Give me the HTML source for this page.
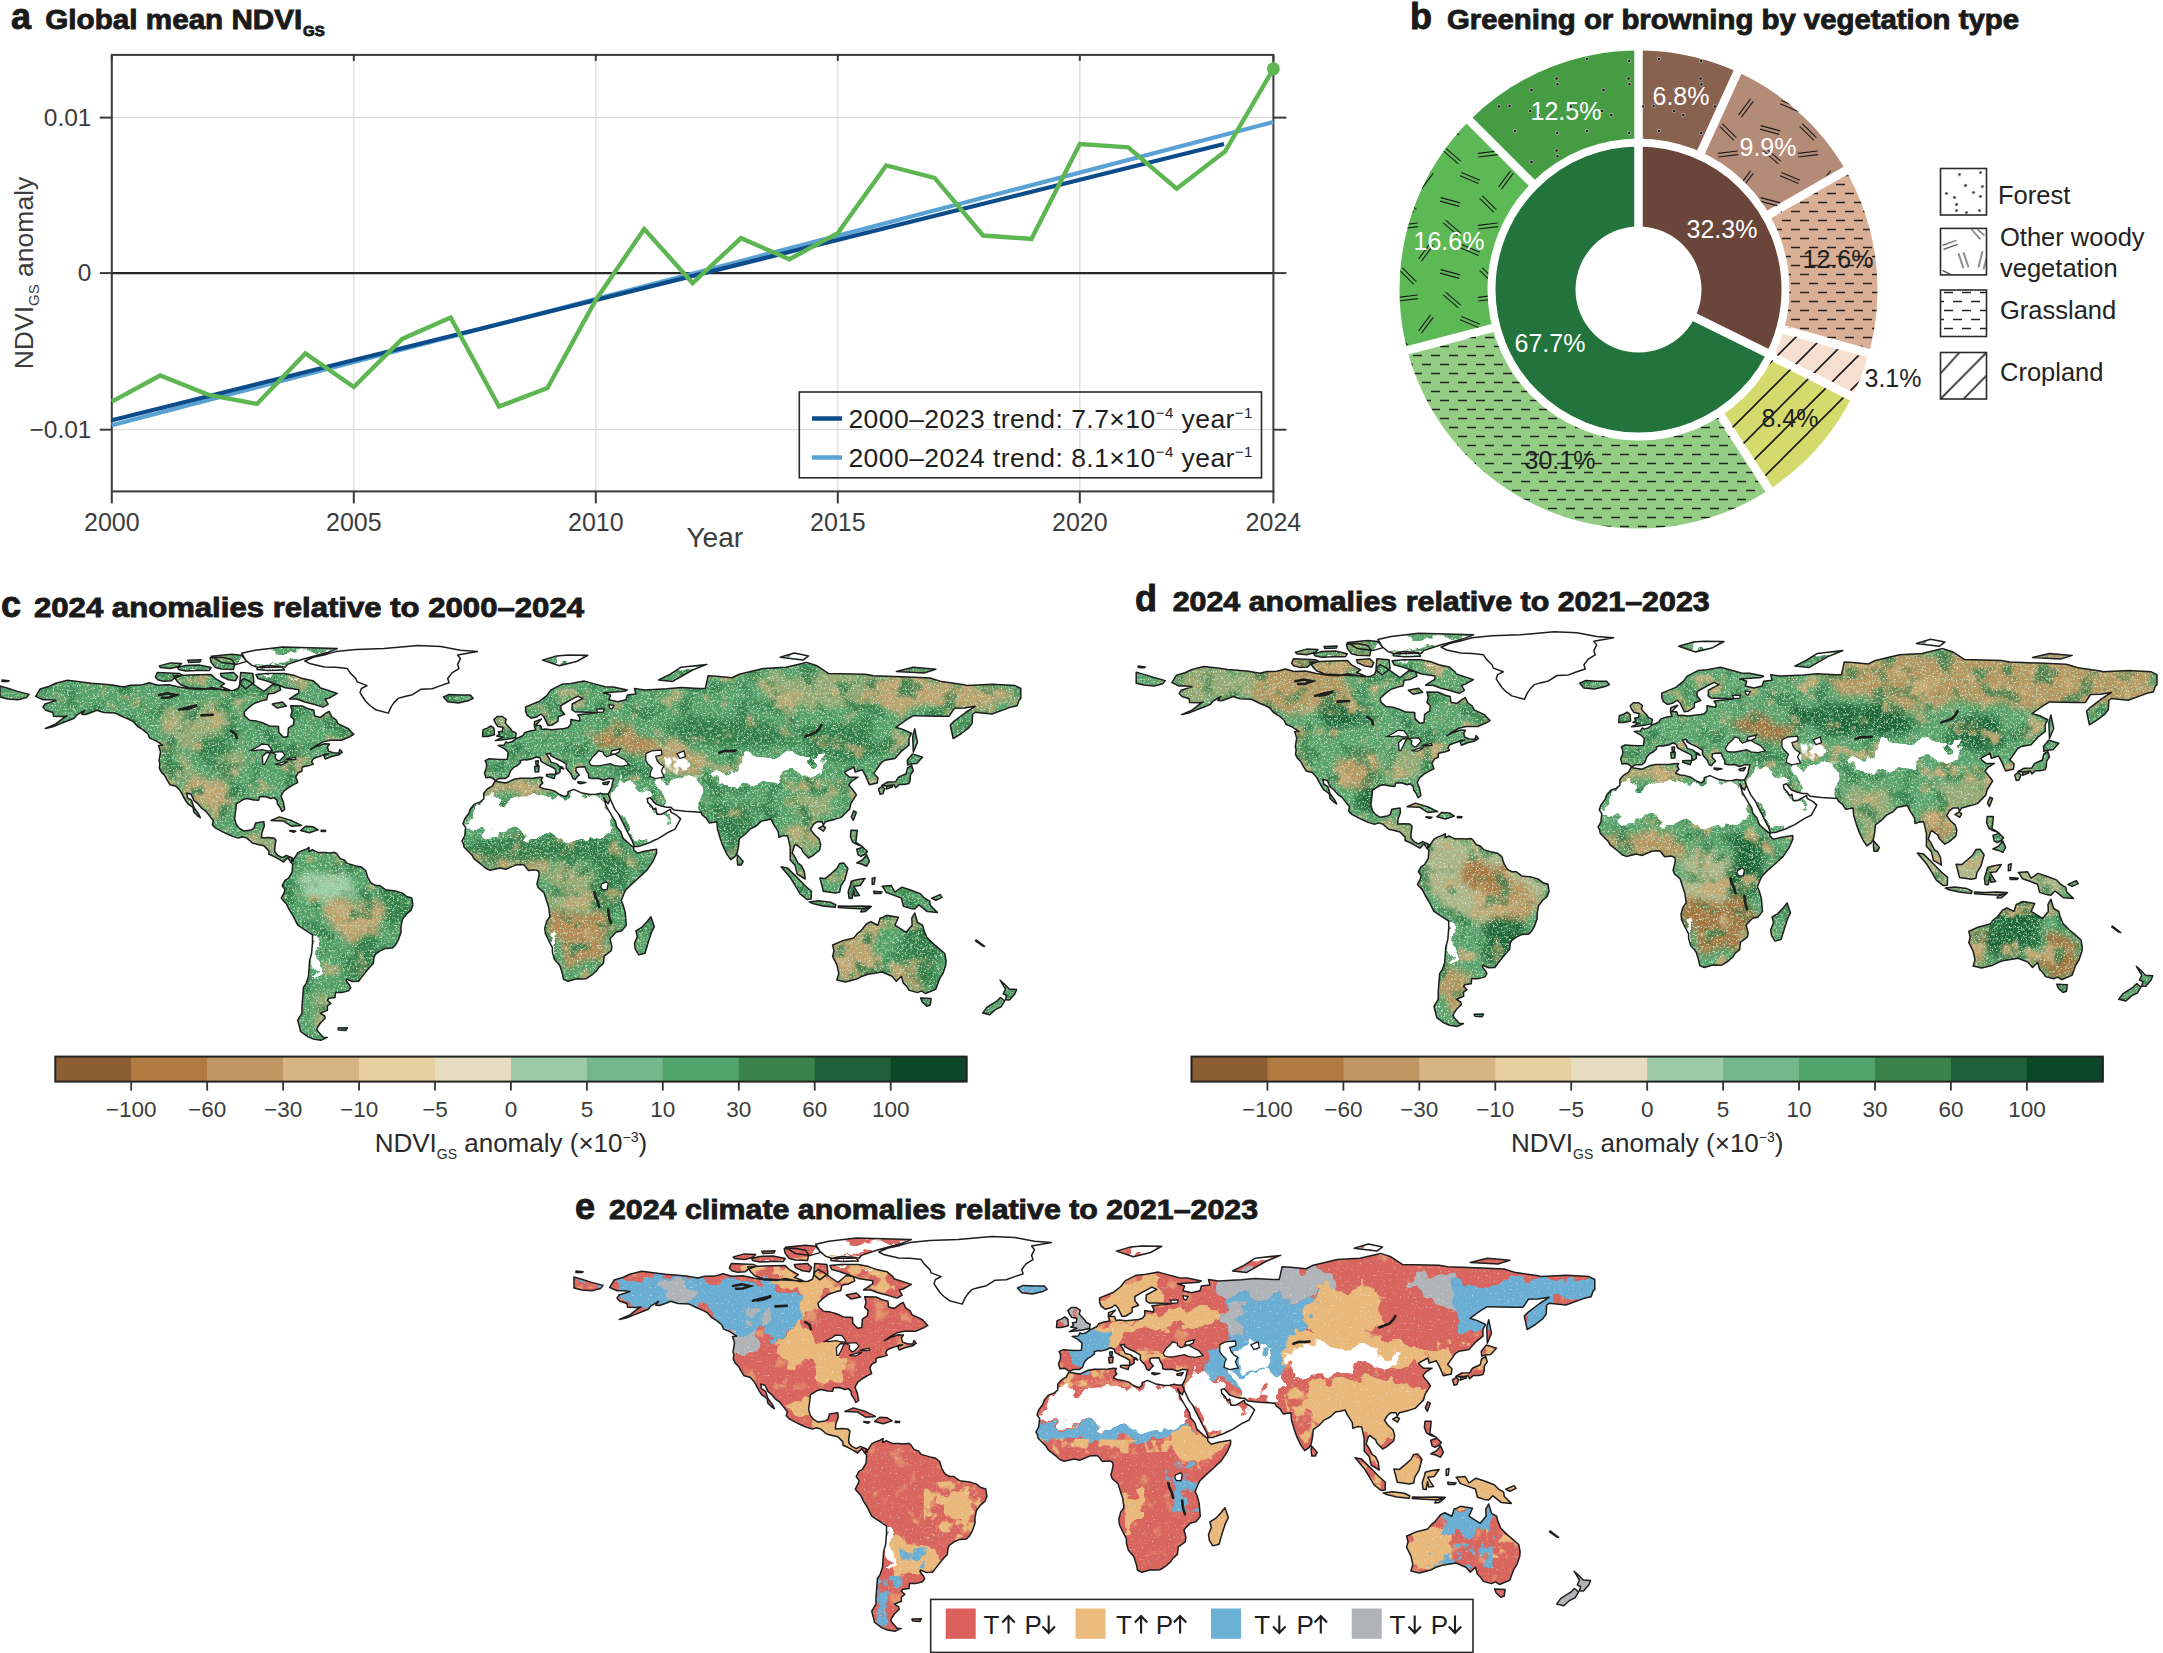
<!DOCTYPE html>
<html><head><meta charset="utf-8"><style>
html,body{margin:0;padding:0;background:#fff;width:2163px;height:1653px;overflow:hidden}
svg{display:block;font-family:"Liberation Sans", sans-serif}
</style></head><body>
<svg width="2163" height="1653" viewBox="0 0 2163 1653">
<defs>
<path id="land" d="M35.7,696.4L40.2,689.0L48.7,686.5L55.8,683.3L67.7,680.2L81.2,681.9L91.4,683.3L103.9,684.2L112.4,685.1L123.7,687.0L130.8,685.3L140.7,685.1L149.2,682.8L157.7,685.3L169.0,684.8L180.3,687.3L191.6,689.0L202.9,689.6L211.4,687.6L225.6,690.4L234.1,690.2L238.3,688.2L241.1,680.8L244.0,678.5L249.6,681.4L256.7,686.5L263.8,691.3L269.4,687.0L272.3,684.5L279.3,685.6L280.8,689.9L273.7,693.3L268.0,694.1L266.6,699.8L262.4,700.6L254.7,703.2L249.6,706.9L244.0,712.0L244.8,716.0L249.6,720.2L256.7,721.1L262.4,722.8L269.4,725.9L278.5,726.4L278.8,732.4L283.6,737.2L287.8,736.4L288.4,728.1L293.5,724.7L294.1,719.6L290.7,716.2L292.1,711.1L290.7,705.7L302.0,706.0L309.1,709.1L313.9,710.3L314.7,716.0L320.4,717.4L326.0,713.1L329.1,711.4L331.7,716.8L335.9,719.6L338.2,723.9L344.4,726.7L348.7,729.0L353.8,734.4L350.1,736.6L341.6,740.3L330.3,740.3L323.2,741.8L316.1,745.7L310.5,749.7L316.1,746.6L324.6,743.7L329.4,744.0L327.4,747.1L328.6,751.1L333.1,752.8L338.8,753.1L339.9,749.4L342.2,752.2L338.8,754.8L331.4,756.5L325.2,759.0L323.8,755.6L328.6,753.7L324.6,754.2L321.8,755.6L316.7,757.3L313.3,758.8L311.6,761.9L313.3,764.1L309.1,765.6L303.4,766.7L302.0,767.8L302.0,771.0L298.3,772.7L295.8,776.9L296.9,780.0L297.7,782.6L293.5,784.6L287.8,788.0L283.6,791.4L281.0,796.2L283.3,802.1L284.7,809.5L281.9,811.5L279.9,807.2L277.4,803.8L277.1,800.4L274.2,797.6L270.9,798.5L265.2,796.5L259.5,796.7L258.7,800.2L253.9,799.9L246.8,798.5L243.1,799.6L236.3,803.8L235.8,809.5L234.6,818.6L236.3,824.5L239.2,828.2L244.0,831.1L251.0,829.9L253.9,828.5L255.6,823.1L263.8,821.7L264.3,826.0L261.8,833.0L261.5,837.9L268.0,837.6L273.7,837.9L275.9,840.1L274.8,847.8L274.8,851.7L277.9,855.4L282.2,857.7L286.4,855.4L292.4,858.0L293.5,860.5L290.7,862.2L287.8,857.7L283.6,862.0L279.3,859.4L273.7,856.3L268.9,854.3L268.9,850.9L263.8,845.8L258.1,844.4L252.5,843.0L246.8,838.1L242.6,836.7L238.3,838.1L232.6,836.4L228.4,834.5L222.7,831.9L215.7,828.2L212.3,824.8L213.4,820.8L210.3,816.9L205.8,811.2L201.5,808.1L197.6,803.6L193.9,800.4L191.0,794.2L186.8,793.1L187.4,797.6L191.6,800.4L193.9,807.5L198.7,814.0L200.4,817.7L197.8,816.0L193.9,812.3L193.0,807.5L187.9,803.8L185.4,800.4L183.1,796.2L180.0,790.5L176.0,786.3L170.1,784.8L166.4,778.9L164.7,775.5L161.3,772.1L159.3,768.1L159.9,763.6L159.1,760.7L160.5,751.7L158.5,745.4L162.7,745.2L156.2,740.9L149.7,738.1L147.7,733.8L142.7,729.6L137.8,726.7L133.6,721.9L129.4,719.6L122.3,716.5L115.2,713.1L103.9,712.5L96.8,710.3L91.1,712.5L85.5,714.5L81.8,714.3L84.6,710.3L77.0,714.8L74.2,718.2L68.5,720.5L60.0,723.9L52.9,726.7L45.3,728.4L55.8,723.9L64.3,717.4L67.1,716.0L62.3,716.5L53.5,716.2L52.9,712.5L45.9,710.3L43.0,707.2L45.0,704.0L55.8,700.6L50.1,699.8L43.0,699.8L35.7,696.4ZM388.3,713.1L375.6,709.7L369.9,705.5L365.7,701.2L362.8,697.0L360.0,692.7L361.4,688.5L367.1,685.6L357.2,681.9L355.8,678.5L350.1,672.9L347.3,668.6L335.9,667.2L324.6,666.9L310.5,663.8L304.8,661.0L313.3,657.3L326.0,654.4L335.9,651.6L355.8,649.6L384.1,648.5L418.0,645.6L440.7,646.5L460.5,650.2L477.4,651.6L457.6,655.0L460.5,658.7L457.6,664.4L459.0,668.6L452.0,672.9L447.7,678.5L449.1,682.8L440.7,685.6L432.2,688.7L420.8,689.3L412.4,694.7L403.9,696.7L398.2,698.4L394.0,702.6L391.1,706.9L388.3,713.1ZM443.5,697.0L449.1,694.4L460.5,695.0L470.4,695.0L473.2,698.4L468.9,700.4L458.5,702.9L447.7,701.8L443.5,697.0ZM292.4,858.3L294.1,858.6L297.7,852.9L301.4,850.9L306.2,849.2L309.1,847.5L308.8,851.5L312.7,849.8L318.4,852.6L324.6,852.6L330.3,852.9L334.5,852.3L336.5,853.4L340.2,858.6L344.4,860.0L347.3,863.4L355.8,865.9L361.4,867.1L365.7,870.5L367.6,877.0L369.9,881.2L371.3,883.2L375.6,885.5L379.8,885.5L385.5,889.7L395.4,890.9L402.4,893.1L406.7,896.5L411.8,898.0L412.9,905.3L410.9,910.4L406.7,913.8L402.4,919.5L401.0,926.6L401.0,932.3L398.2,940.2L395.4,945.0L392.5,947.9L385.5,948.4L380.4,950.7L375.6,954.1L374.1,956.9L373.3,963.4L369.9,967.1L365.7,972.0L361.4,977.6L358.6,981.3L352.4,981.6L346.4,979.0L346.1,980.7L349.2,984.7L350.7,987.5L348.7,990.7L341.6,992.6L335.4,992.6L335.1,997.5L328.9,998.3L327.4,1000.3L330.8,1003.4L327.4,1006.0L327.4,1010.2L320.4,1013.1L324.6,1015.9L325.2,1018.2L320.4,1023.0L316.7,1028.9L317.8,1031.2L323.2,1037.2L327.2,1037.4L320.9,1040.3L313.3,1039.1L307.6,1036.6L300.6,1031.5L299.2,1025.8L297.7,1020.1L302.0,1013.1L302.0,1006.0L302.8,996.0L303.4,987.5L306.2,983.3L308.5,976.2L309.1,967.7L309.6,960.6L311.6,953.5L312.5,942.2L312.5,934.8L307.6,931.7L297.7,925.2L293.5,916.7L289.2,909.6L286.4,903.9L281.3,898.2L284.2,892.6L285.0,889.7L282.2,885.5L285.0,880.4L288.4,878.4L292.1,872.2L292.6,864.2L290.9,862.0L292.4,858.3ZM495.0,781.2L505.7,783.1L514.2,779.2L519.9,778.3L534.0,778.0L539.7,777.2L542.5,777.5L541.1,780.0L542.8,782.9L540.3,785.4L539.7,787.1L543.9,788.8L548.8,789.4L554.7,791.1L559.5,794.5L565.2,796.7L568.0,794.2L568.0,791.6L573.7,789.4L579.3,791.9L582.1,793.1L590.6,794.5L596.0,794.2L600.5,793.3L602.8,793.9L608.2,793.9L610.2,799.0L608.2,803.8L606.2,801.9L603.7,797.9L606.2,806.1L611.9,816.0L615.5,821.7L616.7,827.1L620.6,831.6L623.2,838.4L628.8,843.5L633.7,847.5L633.7,849.8L637.3,853.2L644.4,851.2L648.7,850.6L656.6,849.2L656.6,853.2L652.9,861.4L647.2,869.9L639.6,877.0L631.7,884.1L626.0,889.7L623.8,894.0L621.2,900.5L623.2,905.3L625.2,912.4L626.3,925.2L621.8,930.8L616.1,932.3L609.9,938.8L611.9,946.4L611.3,950.7L604.2,956.1L603.4,963.4L599.1,967.1L596.3,971.1L592.1,974.8L586.4,978.5L583.8,979.0L576.5,978.8L568.0,981.3L563.5,979.3L562.9,976.2L562.3,973.4L560.1,966.3L558.1,963.4L554.4,959.2L552.4,952.1L552.4,947.6L548.8,940.8L545.4,933.7L544.8,928.0L546.8,920.9L549.9,916.7L548.8,907.6L546.2,899.7L543.9,892.6L538.3,887.8L536.9,884.1L538.3,878.4L539.1,874.4L538.6,871.3L535.5,869.9L531.2,870.2L528.4,870.5L524.1,865.1L521.0,864.5L515.6,865.1L510.8,867.1L505.7,869.3L500.1,867.9L490.2,870.2L485.9,868.5L481.7,864.8L477.4,861.4L474.0,858.6L471.8,854.9L468.9,852.0L464.1,847.2L463.3,843.5L461.9,841.0L464.7,835.9L465.6,827.4L463.0,823.7L464.7,818.9L468.9,813.2L470.4,808.7L474.6,804.1L480.3,801.9L483.7,799.0L483.7,793.3L487.3,789.1L489.9,787.4L492.2,786.3L493.9,782.9L495.0,781.2ZM650.9,916.7L654.3,926.6L651.5,932.3L648.7,940.8L645.0,953.2L638.8,954.9L635.4,949.3L634.5,943.6L637.3,936.5L635.9,930.8L641.6,927.4L647.0,921.8L650.9,916.7ZM495.6,780.6L498.9,778.6L505.2,778.6L508.6,776.1L510.6,770.7L513.9,767.3L517.6,765.3L520.5,762.7L520.2,760.7L524.1,759.6L526.7,759.9L532.1,758.8L536.6,756.8L540.3,758.2L541.1,761.3L546.2,764.4L551.9,767.0L555.5,769.2L555.8,774.4L558.1,773.5L560.1,772.1L560.1,767.8L563.8,769.0L562.3,767.3L559.2,766.1L556.7,763.9L551.0,762.2L549.6,759.0L546.2,753.9L550.5,753.4L550.7,755.6L555.3,758.2L560.9,760.7L566.3,764.1L566.3,768.4L568.6,771.2L571.1,774.1L572.8,778.3L575.1,779.5L577.1,776.9L579.3,774.9L575.9,771.0L576.2,767.5L579.3,767.0L585.0,766.7L585.5,768.1L586.4,770.7L588.4,773.8L588.7,777.8L592.1,778.6L598.3,778.3L603.4,780.3L609.0,778.3L613.8,778.9L612.7,782.0L611.9,786.5L610.2,790.5L608.2,793.9L610.2,799.0L614.7,808.9L618.9,814.6L622.3,821.7L626.0,828.8L628.8,834.5L632.5,841.5L634.2,846.6L638.8,846.4L648.7,843.0L658.6,838.4L668.5,832.2L675.0,829.1L680.6,818.9L677.2,815.7L671.0,812.1L670.4,809.2L667.1,811.2L661.4,814.3L657.1,814.3L656.3,811.2L655.7,808.1L653.5,809.5L651.5,806.1L647.8,802.4L647.2,798.7L650.1,797.6L655.4,803.8L661.4,806.1L666.5,807.2L671.0,807.2L673.8,810.1L685.4,811.2L701.0,812.3L702.4,815.2L706.1,818.0L709.5,823.1L716.9,821.7L717.4,828.8L720.3,838.7L723.1,846.4L727.0,854.3L730.7,859.7L735.0,856.6L737.2,852.9L738.6,845.8L739.2,838.7L744.9,834.5L750.5,828.8L756.2,826.0L761.3,821.1L766.1,820.3L771.2,819.1L773.2,823.7L778.3,831.6L778.8,837.3L783.6,835.6L787.6,835.9L790.2,847.2L790.2,860.0L795.2,865.6L797.2,874.1L805.2,879.0L804.3,871.3L801.5,865.6L798.1,863.4L795.0,857.1L792.1,852.9L794.4,845.8L795.8,844.4L798.6,846.6L801.5,848.6L802.9,852.0L808.6,858.0L812.8,855.7L819.6,850.0L820.7,844.4L819.0,838.7L814.2,834.5L810.5,829.4L813.4,824.5L817.0,821.7L822.1,821.7L823.3,825.1L825.5,821.7L834.6,819.4L841.1,817.4L845.3,813.2L849.6,808.9L851.0,803.3L856.4,794.8L853.3,790.5L848.7,784.8L852.4,780.6L858.1,777.2L849.6,777.2L845.3,773.5L844.5,772.1L853.8,767.0L855.2,772.1L862.3,769.8L865.1,774.9L869.4,784.8L877.3,782.9L877.9,777.8L873.6,773.5L878.7,766.4L881.3,762.7L885.0,760.2L894.9,758.5L901.9,750.8L909.0,745.2L909.0,738.1L911.6,733.5L903.4,729.6L896.0,727.3L905.9,720.1L913.3,715.7L939.3,716.2L949.2,716.2L954.3,708.3L964.2,708.0L975.2,706.3L965.6,712.5L954.3,721.1L950.3,725.0L953.2,738.6L961.4,733.5L968.7,727.9L972.1,723.3L972.7,714.0L975.2,712.3L991.9,714.0L1011.5,706.9L1017.1,705.7L1019.1,700.1L1020.8,698.4L1020.8,688.5L1015.1,685.6L992.5,684.2L967.0,685.6L964.2,684.8L941.6,681.6L930.2,678.0L907.6,677.1L873.6,675.7L865.1,674.3L828.4,673.4L817.0,665.8L806.6,662.4L785.9,667.2L763.3,668.6L739.2,674.3L732.1,677.7L716.6,676.3L708.1,675.7L705.3,688.5L699.6,688.5L681.2,687.6L667.1,688.7L644.4,689.9L634.5,688.5L635.9,694.1L627.4,695.0L626.0,699.8L617.5,701.8L609.0,699.8L610.5,695.0L603.4,692.7L624.6,691.3L627.4,689.9L613.3,687.0L605.1,686.8L593.5,683.6L584.4,681.1L570.8,683.6L562.3,684.2L551.0,689.9L546.8,695.5L539.7,701.2L525.6,706.9L525.6,711.4L527.2,715.4L531.2,718.2L536.9,716.8L541.1,714.0L543.9,716.8L546.8,722.8L548.2,725.6L551.9,725.0L558.1,721.1L558.1,716.8L564.6,714.3L560.9,709.7L560.9,705.5L570.8,699.8L577.9,696.1L582.7,698.4L572.2,704.0L572.0,709.7L575.1,712.0L582.1,712.0L596.9,712.8L585.0,714.0L577.9,714.8L579.9,718.2L579.6,721.1L570.8,719.6L570.8,724.5L568.0,727.6L564.6,728.4L551.9,729.8L545.4,729.0L542.0,729.6L540.5,725.6L535.7,725.3L541.4,719.1L534.6,721.6L534.3,725.3L535.7,730.1L529.8,731.0L524.7,732.7L522.7,735.8L518.5,737.8L516.5,738.3L512.0,741.8L508.0,742.9L506.0,741.8L504.3,744.9L498.1,745.4L504.3,748.6L508.0,752.0L507.7,756.5L507.2,759.3L500.1,759.6L488.8,758.8L485.1,760.7L486.5,763.6L486.5,767.8L484.5,772.7L485.9,777.8L490.5,777.2L493.6,779.2L495.6,780.6ZM495.3,740.6L501.5,740.0L508.6,738.9L515.4,737.5L516.2,733.2L512.2,731.3L510.8,729.0L507.2,725.3L505.2,723.0L506.3,719.4L502.3,716.5L497.2,716.5L493.9,719.6L495.6,723.3L497.8,726.4L502.9,727.3L502.3,731.3L498.4,731.8L499.5,734.4L496.7,736.1L502.9,737.2L495.3,740.6ZM494.4,734.7L493.9,728.1L490.7,725.9L487.3,728.1L483.1,729.6L482.5,736.4L487.3,736.4L494.4,734.7ZM881.8,785.4L887.8,782.0L895.7,781.7L898.5,777.2L906.2,773.8L907.6,767.8L911.6,765.3L913.3,770.7L910.4,774.9L910.1,780.6L909.0,783.4L904.2,784.6L899.1,784.6L895.7,787.7L894.0,784.8L887.8,785.7L881.8,785.4ZM878.5,788.8L880.1,794.2L883.0,793.6L884.7,788.5L881.8,786.5L878.5,788.8ZM886.4,789.1L892.6,786.8L892.0,785.4L886.7,786.3L886.4,789.1ZM907.6,765.0L907.3,760.2L912.4,753.9L922.6,757.1L916.7,763.6L910.4,764.1L907.6,765.0ZM913.3,752.2L917.5,742.3L914.7,728.7L912.7,736.6L913.3,752.2ZM853.8,810.9L856.4,812.3L853.3,820.3L851.3,816.9L853.8,810.9ZM818.7,828.2L822.7,826.0L825.5,827.4L823.5,831.1L818.7,828.2ZM737.5,854.9L743.2,861.4L741.2,865.1L737.8,865.1L737.2,860.0L737.5,854.9ZM781.1,866.8L787.3,867.9L795.2,875.6L804.9,885.5L811.4,891.2L811.1,899.1L807.1,899.4L800.1,894.0L795.2,885.5L790.4,877.8L781.1,866.8ZM809.1,901.9L818.5,900.8L830.3,902.2L835.7,904.8L835.2,907.3L822.7,905.9L812.8,903.6L809.1,901.9ZM838.3,905.9L848.2,906.2L860.9,905.9L870.8,906.2L865.1,909.0L849.6,908.2L838.3,907.6L838.3,905.9ZM819.9,878.1L821.9,885.5L823.3,891.2L835.4,893.1L839.7,892.0L840.8,886.1L844.8,879.8L847.9,868.5L843.9,863.1L839.7,863.4L836.9,868.5L831.2,873.6L825.5,878.4L819.9,878.1ZM849.0,898.2L852.1,898.5L853.5,890.6L854.7,896.0L859.5,895.4L856.7,891.2L853.8,886.3L860.1,885.5L865.1,878.4L856.7,879.8L851.3,881.2L850.2,885.5L848.2,891.7L849.0,898.2ZM882.1,886.3L891.2,885.5L894.9,892.0L901.9,887.2L910.4,890.0L920.3,893.7L924.6,898.2L929.7,901.1L930.2,905.3L937.3,912.4L927.4,911.6L918.9,904.8L914.7,909.0L910.4,908.4L903.4,906.2L901.4,898.0L893.5,895.1L886.4,892.6L883.5,887.8L882.1,886.3ZM851.0,830.2L857.2,830.2L856.7,835.9L855.8,842.4L862.3,846.4L856.7,844.4L852.7,842.1L850.4,836.4L851.0,830.2ZM856.7,862.8L862.3,860.0L866.6,854.9L869.4,861.4L866.6,866.2L862.3,864.2L856.7,862.8ZM856.7,849.2L862.9,847.2L867.4,851.5L865.1,854.3L860.9,856.3L858.1,854.9L856.7,849.2ZM832.6,945.0L834.0,944.5L841.7,941.1L853.8,937.9L857.2,933.7L860.9,930.8L866.6,923.8L870.8,921.8L877.9,925.2L880.1,918.1L881.6,917.8L886.4,915.3L898.5,917.2L894.9,925.2L906.2,932.3L912.1,925.2L911.8,918.1L914.7,913.0L917.5,922.3L922.6,925.2L924.0,930.6L926.8,937.4L933.1,943.6L938.2,947.9L944.7,953.5L946.1,960.6L945.8,964.9L943.0,973.4L939.6,978.8L935.9,989.0L935.6,989.2L925.4,993.5L921.5,990.9L917.5,992.6L909.3,990.4L906.5,986.1L903.4,983.3L901.4,976.2L896.3,981.3L892.0,976.2L882.1,972.0L868.0,974.2L862.3,976.2L856.7,979.0L845.3,981.9L836.9,979.9L838.8,973.4L836.9,964.9L832.6,956.4L834.0,950.7L832.6,945.0ZM920.6,998.0L931.1,998.6L930.2,1005.1L926.8,1006.3L922.3,1002.3L920.6,998.0ZM1000.1,980.2L1005.2,984.7L1009.2,989.0L1016.6,989.5L1014.9,993.8L1009.5,1000.0L1005.5,999.7L1006.6,995.5L1003.3,993.8L1005.5,989.0L1000.1,980.2ZM1000.4,997.5L1004.7,1000.9L1001.0,1006.8L995.3,1009.7L989.7,1014.8L982.6,1013.1L986.8,1007.4L996.7,1001.2L1000.4,997.5ZM270.9,820.6L279.3,816.9L292.1,820.8L301.4,825.4L291.5,826.2L283.6,821.1L270.9,820.6ZM300.6,830.5L305.7,826.2L313.3,826.8L318.1,829.9L309.3,832.8L300.6,830.5ZM542.5,660.1L556.7,655.9L568.0,655.0L587.8,655.3L576.5,661.5L559.5,665.8L542.5,660.1ZM658.6,679.9L669.9,674.3L681.2,667.2L706.7,664.4L692.5,670.0L672.7,681.4L658.6,679.9ZM780.2,657.3L794.4,653.0L808.6,655.9L802.9,660.1L780.2,657.3ZM896.3,671.4L913.3,667.2L935.9,669.2L924.6,672.9L896.3,671.4ZM157.3,672.5L179.7,673.6L182.7,675.1L173.6,678.6L171.5,680.7L163.4,681.2L157.8,679.7L155.3,677.1ZM173.6,676.1L188.8,675.1L211.2,674.4L215.3,678.6L224.4,683.7L220.3,686.3L229.5,690.0L205.1,688.8L188.8,687.8L180.7,684.8L176.6,680.7ZM159.3,665.9L170.5,662.9L181.7,663.4L178.6,666.4L170.5,668.5L160.3,667.5ZM177.6,667.5L185.8,665.4L199.0,664.9L211.2,667.5L209.2,670.5L197.0,670.5L185.8,671.0L178.6,669.5ZM210.2,657.8L221.4,657.3L231.5,659.3L234.6,663.4L233.6,669.5L221.4,669.0L215.3,667.5L211.2,662.4ZM187.8,660.3L201.0,659.8L200.0,661.9L188.8,662.4ZM257.0,667.5L267.1,665.4L282.4,666.4L284.4,670.0L268.2,670.5L257.0,669.5ZM220.3,673.6L233.6,672.5L237.6,676.6L235.6,680.7L228.5,679.7L221.4,676.6ZM240.7,672.5L252.9,673.6L253.9,682.7L245.8,688.8L239.7,683.7ZM255.9,674.6L267.1,673.6L284.4,673.6L294.6,675.6L302.7,678.6L312.9,680.7L319.0,685.8L320.0,687.8L337.3,693.4L329.2,698.0L325.1,699.0L328.2,704.1L323.1,707.1L312.9,704.1L304.8,702.0L296.6,699.0L289.5,699.0L298.7,692.9L298.7,689.8L292.6,688.8L285.4,687.8L277.3,684.8L266.1,680.7L258.0,678.6ZM241.7,653.2L254.9,650.2L282.4,647.1L337.3,648.6L328.2,652.2L302.7,659.3L287.5,664.4L285.4,667.0L258.0,667.5L251.9,665.4L245.8,660.3ZM211.2,656.3L231.5,654.2L241.7,655.3L246.8,661.4L236.6,664.4L221.4,662.4ZM272.2,704.1L282.4,702.0L286.5,706.1L277.3,708.1ZM-0.0,686.0L7.8,688.2L16.8,691.1L29.1,694.4L26.5,697.6L18.1,699.8L7.8,698.9L-0.0,697.0ZM2.0,679.9L9.1,680.8L7.7,681.6L2.0,681.4ZM534.6,766.4L539.1,766.1L538.6,771.8L535.2,772.1L534.6,766.4ZM535.7,761.0L538.3,760.7L538.0,765.3L536.0,764.7L535.7,761.0ZM546.5,774.6L555.5,774.1L554.1,778.6L546.5,776.1L546.5,774.6ZM577.9,781.7L585.8,782.6L580.7,783.7L577.9,782.9L577.9,781.7ZM602.8,783.1L609.3,781.4L607.3,784.6L603.4,784.3L602.8,783.1ZM289.8,830.5L295.8,831.1L294.1,832.2L289.8,831.1ZM321.2,830.2L325.8,830.5L325.2,831.6L321.2,831.6ZM931.7,898.2L940.1,894.6L942.1,897.4L935.9,900.2L931.7,898.2ZM872.2,878.4L875.1,877.5L874.2,884.1L872.2,884.6ZM873.6,891.2L882.1,892.0L880.7,893.4L874.2,893.4ZM862.3,908.7L871.4,906.5L865.1,911.6L860.9,911.9ZM337.9,1028.1L347.3,1027.8L345.8,1030.6L338.8,1030.1ZM976.1,939.9L984.6,946.4L982.6,945.9L975.5,940.8Z"/>
<path id="water" d="M589.2,762.2L592.3,757.3L595.5,754.5L598.6,750.8L603.4,752.2L603.4,753.9L606.5,756.8L611.9,754.8L614.7,754.2L618.9,756.8L624.6,759.6L629.1,764.7L621.8,766.4L614.7,765.6L610.5,763.6L599.1,765.8L593.5,765.8L590.6,765.0L589.2,762.2ZM610.5,753.7L611.9,750.8L620.4,748.8L618.9,752.2L614.7,754.2L610.5,753.7ZM645.8,753.7L651.5,750.8L661.4,750.0L662.0,754.5L655.7,756.5L657.1,760.7L660.0,764.1L663.7,766.4L661.4,770.7L664.2,776.9L655.7,778.6L650.1,776.3L650.6,772.1L652.3,768.1L647.8,763.6L645.8,760.7L645.8,753.7ZM250.8,750.3L258.1,746.6L261.8,744.0L268.0,744.6L271.4,749.4L272.0,750.8L266.6,750.8L262.4,749.7L255.3,750.5L250.8,750.3ZM262.9,764.4L264.6,764.4L267.2,759.3L269.4,754.5L270.9,752.8L266.6,752.5L262.4,756.5L262.9,764.4ZM272.0,752.5L275.1,752.2L282.2,751.7L285.0,755.1L280.2,760.2L277.9,760.7L275.1,757.9L275.7,754.5L272.0,752.5ZM275.1,764.4L281.6,765.0L287.8,761.6L283.6,761.9L277.9,763.6L275.1,764.4ZM285.6,759.9L295.8,759.3L294.9,757.3L287.0,758.8L285.6,759.9ZM677.0,753.7L684.0,750.8L685.4,756.5L679.8,758.5L677.0,753.7ZM601.4,884.1L606.2,881.8L608.2,883.5L607.1,889.7L602.5,889.7L600.8,886.9L601.4,884.1ZM596.3,709.1L604.2,708.9L603.4,712.0L597.7,712.5L596.3,709.1ZM609.0,704.6L614.1,705.5L611.9,709.1L609.9,708.3L609.0,704.6Z"/>
<path id="lakes" d="M805.2,736.4L810.0,734.7L815.6,732.4L819.3,728.7L821.3,725.0M719.4,752.8L725.1,750.8L730.7,751.1L735.5,750.5M594.3,892.0L595.5,896.8L597.7,901.1L599.1,907.0M608.2,909.6L608.8,915.3L609.3,918.1L611.0,923.2M159.1,695.0L167.6,693.3L176.0,695.0L169.0,697.5L161.9,697.8M178.9,709.7L187.4,707.4L197.3,705.2L190.2,708.3L183.1,709.4M231.2,731.0L235.5,733.8L236.9,738.1M212.8,714.8L201.5,715.4"/>
<path id="grl" d="M388.3,713.1L375.6,709.7L369.9,705.5L365.7,701.2L362.8,697.0L360.0,692.7L361.4,688.5L367.1,685.6L357.2,681.9L355.8,678.5L350.1,672.9L347.3,668.6L335.9,667.2L324.6,666.9L310.5,663.8L304.8,661.0L313.3,657.3L326.0,654.4L335.9,651.6L355.8,649.6L384.1,648.5L418.0,645.6L440.7,646.5L460.5,650.2L477.4,651.6L457.6,655.0L460.5,658.7L457.6,664.4L459.0,668.6L452.0,672.9L447.7,678.5L449.1,682.8L440.7,685.6L432.2,688.7L420.8,689.3L412.4,694.7L403.9,696.7L398.2,698.4L394.0,702.6L391.1,706.9L388.3,713.1Z"/>
<clipPath id="clipLand"><use href="#land"/></clipPath>
<filter id="blur5" x="-10" y="615" width="1045" height="445" filterUnits="userSpaceOnUse" color-interpolation-filters="sRGB"><feGaussianBlur stdDeviation="5"/></filter>
<filter id="blur2" x="-10" y="615" width="1045" height="445" filterUnits="userSpaceOnUse" color-interpolation-filters="sRGB"><feGaussianBlur stdDeviation="1.6"/></filter>
<filter id="dispC" x="-10" y="615" width="1045" height="445" filterUnits="userSpaceOnUse" color-interpolation-filters="sRGB"><feTurbulence type="fractalNoise" baseFrequency="0.035" numOctaves="3" seed="4" result="t"/><feDisplacementMap in="SourceGraphic" in2="t" scale="28" xChannelSelector="R" yChannelSelector="G"/><feGaussianBlur stdDeviation="3"/></filter>
<filter id="dispE" x="-10" y="615" width="1045" height="445" filterUnits="userSpaceOnUse" color-interpolation-filters="sRGB"><feTurbulence type="fractalNoise" baseFrequency="0.05" numOctaves="3" seed="9" result="t"/><feDisplacementMap in="SourceGraphic" in2="t" scale="30" xChannelSelector="R" yChannelSelector="G"/><feGaussianBlur stdDeviation="0.6"/></filter>
<filter id="nTan" x="-10" y="615" width="1045" height="445" filterUnits="userSpaceOnUse" color-interpolation-filters="sRGB"><feTurbulence type="fractalNoise" baseFrequency="0.045" numOctaves="3" seed="11"/><feColorMatrix type="matrix" values="0 0 0 0 0.788 0 0 0 0 0.655 0 0 0 0 0.447 6.0 0 0 0 -3.4"/></filter>
<filter id="nDark" x="-10" y="615" width="1045" height="445" filterUnits="userSpaceOnUse" color-interpolation-filters="sRGB"><feTurbulence type="fractalNoise" baseFrequency="0.05" numOctaves="3" seed="23"/><feColorMatrix type="matrix" values="0 0 0 0 0.176 0 0 0 0 0.478 0 0 0 0 0.275 5.0 0 0 0 -2.7"/></filter>
<filter id="nLight" x="-10" y="615" width="1045" height="445" filterUnits="userSpaceOnUse" color-interpolation-filters="sRGB"><feTurbulence type="fractalNoise" baseFrequency="0.75" numOctaves="2" seed="5"/><feColorMatrix type="matrix" values="0 0 0 0 0.910 0 0 0 0 0.937 0 0 0 0 0.863 7.0 0 0 0 -4.35"/></filter>
<filter id="nLight2" x="-10" y="615" width="1045" height="445" filterUnits="userSpaceOnUse" color-interpolation-filters="sRGB"><feTurbulence type="fractalNoise" baseFrequency="0.4" numOctaves="2" seed="7"/><feColorMatrix type="matrix" values="0 0 0 0 0.659 0 0 0 0 0.831 0 0 0 0 0.671 5.0 0 0 0 -2.6"/></filter>
<filter id="eOr" x="-10" y="615" width="1045" height="445" filterUnits="userSpaceOnUse" color-interpolation-filters="sRGB"><feTurbulence type="fractalNoise" baseFrequency="0.06" numOctaves="3" seed="31"/><feColorMatrix type="matrix" values="0 0 0 0 0.922 0 0 0 0 0.733 0 0 0 0 0.486 6.0 0 0 0 -3.6"/></filter>
<filter id="eWh" x="-10" y="615" width="1045" height="445" filterUnits="userSpaceOnUse" color-interpolation-filters="sRGB"><feTurbulence type="fractalNoise" baseFrequency="0.5" numOctaves="1" seed="13"/><feColorMatrix type="matrix" values="0 0 0 0 1.000 0 0 0 0 1.000 0 0 0 0 1.000 6.0 0 0 0 -3.9"/></filter>
<filter id="patchy" x="-10" y="615" width="1045" height="445" filterUnits="userSpaceOnUse" color-interpolation-filters="sRGB"><feTurbulence type="fractalNoise" baseFrequency="0.07" numOctaves="3" seed="17" result="n"/><feColorMatrix in="n" type="matrix" values="0 0 0 0 0 0 0 0 0 0 0 0 0 0 0 10 0 0 0 -5.0" result="m"/><feComposite in="SourceGraphic" in2="m" operator="in"/></filter>
<filter id="patchy2" x="-10" y="615" width="1045" height="445" filterUnits="userSpaceOnUse" color-interpolation-filters="sRGB"><feTurbulence type="fractalNoise" baseFrequency="0.09" numOctaves="3" seed="41" result="n"/><feColorMatrix in="n" type="matrix" values="0 0 0 0 0 0 0 0 0 0 0 0 0 0 0 10 0 0 0 -5.3" result="m"/><feComposite in="SourceGraphic" in2="m" operator="in"/></filter>
</defs>
<g transform="translate(0,0)">
<g clip-path="url(#clipLand)">
<rect x="-5" y="620" width="1035" height="435" fill="#529f68"/>
<g filter="url(#dispC)"><path d="M160.5,704.0L200.1,701.2L228.4,712.5L228.4,735.2L200.1,743.7L177.5,740.9L157.7,723.9Z" fill="#9aa872" fill-opacity="0.95"/><path d="M191.6,777.8L219.9,777.8L236.9,797.6L231.2,814.6L211.4,817.4L197.3,803.3L186.0,791.9Z" fill="#c4a06c" fill-opacity="0.95"/><path d="M217.1,746.6L239.7,749.4L242.6,769.2L222.7,774.9Z" fill="#9aa872" fill-opacity="0.95"/><path d="M166.1,755.1L188.8,755.1L194.4,774.9L174.6,780.6Z" fill="#9aa872" fill-opacity="0.95"/><path d="M248.2,831.6L276.5,837.3L279.3,857.1L262.4,848.6L248.2,840.1Z" fill="#9aa872" fill-opacity="0.95"/><path d="M335.9,899.7L369.9,899.7L384.1,911.0L381.2,936.5L355.8,942.2L333.1,928.0L324.6,908.2Z" fill="#c4a06c" fill-opacity="0.95"/><path d="M381.2,891.2L412.4,896.8L406.7,916.7L395.4,930.8L384.1,916.7Z" fill="#2f7c48" fill-opacity="0.95"/><path d="M545.4,871.3L590.6,871.3L596.3,905.3L551.0,911.0Z" fill="#9aa872" fill-opacity="0.95"/><path d="M319.0,990.4L333.1,993.2L324.6,1018.7L313.3,1030.1L307.6,1010.2Z" fill="#9aa872" fill-opacity="0.95"/><path d="M548.2,913.8L599.1,908.2L613.3,928.0L602.0,950.7L587.8,964.9L565.2,967.7L553.9,942.2Z" fill="#b98650" fill-opacity="0.95"/><path d="M466.1,845.8L539.7,848.6L548.2,868.5L511.4,868.5L480.3,865.6Z" fill="#c4a06c" fill-opacity="0.95"/><path d="M480.3,800.4L508.6,783.4L539.7,776.3L542.5,789.1L514.2,794.8L485.9,804.7Z" fill="#c4a06c" fill-opacity="0.95"/><path d="M587.8,732.4L635.9,726.7L658.6,738.1L650.1,755.1L618.9,752.2L596.3,750.8Z" fill="#b98650" fill-opacity="0.95"/><path d="M650.1,743.7L686.9,743.7L706.7,757.9L698.2,774.9L667.1,774.9L655.7,763.6Z" fill="#c4a06c" fill-opacity="0.95"/><path d="M873.6,675.7L978.4,684.2L1020.8,695.5L1020.8,706.9L935.9,706.9L893.5,712.5L856.7,698.4Z" fill="#c4a06c" fill-opacity="0.95"/><path d="M771.8,675.7L865.1,675.7L851.0,704.0L794.4,712.5L760.4,698.4Z" fill="#9aa872" fill-opacity="0.95"/><path d="M785.9,823.1L817.0,823.1L817.0,851.5L794.4,857.1Z" fill="#9aa872" fill-opacity="0.95"/><path d="M794.4,789.1L831.2,789.1L831.2,814.6L800.1,814.6Z" fill="#9aa872" fill-opacity="0.95"/><path d="M831.2,939.4L870.8,925.2L882.1,950.7L876.5,976.2L839.7,981.9L828.4,956.4Z" fill="#c4a06c" fill-opacity="0.95"/><path d="M890.6,967.7L916.1,967.7L924.6,990.4L899.1,987.5Z" fill="#c4a06c" fill-opacity="0.95"/><path d="M667.1,718.2L783.1,718.2L800.1,740.9L754.8,749.4L709.5,743.7L667.1,738.1Z" fill="#2f7c48" fill-opacity="0.95"/><path d="M794.4,721.1L868.0,721.1L885.0,746.6L853.8,760.7L805.7,749.4Z" fill="#2f7c48" fill-opacity="0.95"/><path d="M463.3,837.3L618.9,837.3L618.9,860.0L568.0,862.8L500.1,857.1L463.3,848.6Z" fill="#2f7c48" fill-opacity="0.95"/><path d="M593.5,851.5L630.3,848.6L627.4,888.3L618.9,911.0L593.5,905.3Z" fill="#2f7c48" fill-opacity="0.95"/><path d="M715.2,800.4L754.8,806.1L754.8,823.1L732.1,854.3L718.0,834.5Z" fill="#2f7c48" fill-opacity="0.95"/><path d="M901.9,922.3L924.6,925.2L941.6,953.5L935.9,984.7L910.4,979.0L893.5,945.0Z" fill="#2f7c48" fill-opacity="0.95"/><path d="M352.9,942.2L381.2,942.2L369.9,973.4L347.3,973.4Z" fill="#2f7c48" fill-opacity="0.95"/><path d="M200.1,740.9L228.4,740.9L231.2,757.9L200.1,757.9Z" fill="#2f7c48" fill-opacity="0.95"/><path d="M299.2,877.0L341.6,871.3L355.8,891.2L327.4,905.3L296.3,896.8Z" fill="#9fcfa6" fill-opacity="0.95"/></g>
<rect x="-5" y="620" width="1035" height="435" filter="url(#nTan)" opacity="0.7"/>
<rect x="-5" y="620" width="1035" height="435" filter="url(#nDark)" opacity="0.8"/>
<rect x="-5" y="620" width="1035" height="435" filter="url(#nLight2)" opacity="0.7"/>
<rect x="-5" y="620" width="1035" height="435" filter="url(#nLight)" opacity="0.8"/>
<g filter="url(#dispE)"><path d="M463.3,823.1L468.9,811.8L477.4,804.7L488.8,801.9L505.7,797.6L519.9,794.8L534.0,793.3L539.7,796.2L545.4,794.8L553.9,796.2L565.2,799.0L573.7,794.8L582.1,794.8L593.5,796.2L599.1,796.2L604.8,800.4L607.6,806.1L611.9,816.0L616.1,826.0L618.9,831.6L613.3,837.3L596.3,838.7L568.0,839.6L539.7,835.9L511.4,834.5L483.1,833.0L465.3,832.5Z" fill="#ffffff"/><path d="M603.4,794.8L609.0,793.9L610.5,800.4L607.6,803.8L603.7,799.0Z" fill="#ffffff"/><path d="M611.9,791.9L618.9,780.6L633.1,779.2L641.6,787.7L648.7,797.6L651.5,806.1L655.7,810.4L661.4,814.6L669.9,813.2L675.5,811.8L686.9,817.4L678.4,834.5L658.6,838.7L647.2,843.0L638.8,838.7L635.9,833.0L631.7,828.8L626.0,821.7L620.4,813.2L614.7,804.7L610.5,797.6Z" fill="#ffffff"/><path d="M652.9,779.2L669.9,776.3L686.9,777.8L699.6,783.4L701.0,814.6L672.7,814.6L669.9,804.7L661.4,797.6L654.3,789.1Z" fill="#ffffff"/><path d="M714.5,771.4L723.6,770.1L736.5,763.7L755.9,755.9L766.3,752.0L788.3,753.3L803.8,755.9L824.5,755.9L814.2,767.5L806.4,774.0L788.3,771.4L785.7,779.2L768.9,781.8L749.4,785.7L736.5,793.4L732.6,787.0L726.1,781.8L715.8,779.2Z" fill="#ffffff"/><path d="M309.1,930.8L316.1,932.3L320.4,945.0L317.5,959.2L314.7,976.2L312.5,981.9L309.9,981.9L311.0,967.7L311.9,950.7L310.5,936.5Z" fill="#ffffff"/><path d="M545.4,930.8L551.0,930.8L555.3,950.7L558.1,964.9L553.9,962.0L549.6,945.0Z" fill="#ffffff"/></g>
<g filter="url(#patchy)"><path d="M664.0,757.2L677.0,755.9L687.3,759.8L692.5,768.8L702.8,775.3L692.5,781.8L682.1,779.2L674.4,772.7L666.6,768.8Z" fill="#ffffff"/></g>
<use href="#grl" fill="#fff"/>
<g filter="url(#dispE)"><path d="M242.6,655.9L256.7,648.8L335.9,647.9L319.0,655.9L299.2,660.1L279.3,664.4L256.7,665.8L239.7,661.5Z" fill="#ffffff"/><path d="M248.2,667.8L279.3,666.6L285.0,670.0L256.7,670.0Z" fill="#ffffff"/><path d="M539.7,660.1L556.7,655.0L590.6,655.0L579.3,661.5L562.3,664.9Z" fill="#ffffff"/><path d="M667.1,672.9L681.2,665.8L709.5,663.8L686.9,671.4Z" fill="#ffffff"/><path d="M774.6,658.1L794.4,652.2L811.4,655.3L800.1,661.5Z" fill="#ffffff"/><path d="M285.0,673.4L307.6,679.9L319.0,684.2L299.2,676.3Z" fill="#ffffff"/><path d="M171.8,670.0L214.2,665.8L217.1,669.2L194.4,671.4Z" fill="#ffffff"/></g>
</g>
<use href="#water" fill="#fff"/>
<use href="#land" fill="none" stroke="#1e1e1e" stroke-width="1.5" stroke-linejoin="round"/>
<use href="#water" fill="none" stroke="#1e1e1e" stroke-width="1.3"/>
<use href="#lakes" fill="none" stroke="#1e1e1e" stroke-width="2.6" stroke-linecap="round"/>
</g>
<g transform="translate(1136.2,-13.8)">
<g clip-path="url(#clipLand)">
<rect x="-5" y="620" width="1035" height="435" fill="#5aa26c"/>
<g filter="url(#dispC)"><path d="M115.2,678.5L211.4,678.5L211.4,718.2L157.7,726.7L115.2,712.5Z" fill="#bb945e" fill-opacity="0.95"/><path d="M157.7,667.2L242.6,667.2L242.6,687.0L157.7,687.0Z" fill="#bb945e" fill-opacity="0.95"/><path d="M44.5,684.2L115.2,684.2L115.2,712.5L44.5,718.2Z" fill="#9aa872" fill-opacity="0.95"/><path d="M188.8,718.2L228.4,718.2L228.4,743.7L188.8,743.7Z" fill="#1b6336" fill-opacity="0.95"/><path d="M200.1,769.2L239.7,769.2L239.7,797.6L217.1,808.9L200.1,797.6Z" fill="#bb945e" fill-opacity="0.95"/><path d="M228.4,797.6L242.6,803.3L236.9,831.6L222.7,820.3Z" fill="#1b6336" fill-opacity="0.95"/><path d="M256.7,755.1L290.7,755.1L285.0,783.4L256.7,789.1Z" fill="#9aa872" fill-opacity="0.95"/><path d="M248.2,831.6L276.5,837.3L279.3,857.1L262.4,848.6L248.2,840.1Z" fill="#9aa872" fill-opacity="0.95"/><path d="M285.0,851.5L341.6,851.5L369.9,868.5L412.4,896.8L403.9,925.2L381.2,939.4L341.6,936.5L313.3,925.2L282.2,896.8Z" fill="#b3b487" fill-opacity="0.95"/><path d="M330.3,871.3L369.9,874.1L375.6,899.7L347.3,905.3L324.6,891.2Z" fill="#a9733f" fill-opacity="0.95"/><path d="M347.3,905.3L389.7,899.7L403.9,919.5L384.1,939.4L355.8,933.7Z" fill="#bb945e" fill-opacity="0.95"/><path d="M344.4,930.8L386.9,936.5L378.4,964.9L350.1,970.5Z" fill="#1b6336" fill-opacity="0.95"/><path d="M310.5,976.2L341.6,987.5L330.3,1010.2L313.3,1030.1L302.0,1010.2Z" fill="#bb945e" fill-opacity="0.95"/><path d="M542.5,911.0L604.8,908.2L618.9,933.7L604.8,959.2L582.1,967.7L559.5,964.9L545.4,933.7Z" fill="#a9733f" fill-opacity="0.95"/><path d="M463.3,843.0L539.7,848.6L548.2,868.5L511.4,868.5L480.3,865.6Z" fill="#bb945e" fill-opacity="0.95"/><path d="M545.4,871.3L596.3,871.3L596.3,905.3L579.3,913.8L545.4,913.8Z" fill="#b3b487" fill-opacity="0.95"/><path d="M480.3,800.4L508.6,783.4L539.7,776.3L542.5,789.1L514.2,794.8L485.9,804.7Z" fill="#c4a06c" fill-opacity="0.95"/><path d="M593.5,851.5L630.3,848.6L627.4,888.3L618.9,911.0L593.5,905.3Z" fill="#1b6336" fill-opacity="0.95"/><path d="M590.6,732.4L638.8,729.6L667.1,743.7L641.6,756.5L613.3,752.2Z" fill="#a9733f" fill-opacity="0.95"/><path d="M652.9,718.2L768.9,718.2L788.7,740.9L752.0,752.2L698.2,746.6L658.6,740.9Z" fill="#1b6336" fill-opacity="0.95"/><path d="M845.3,664.4L1020.8,684.2L1020.8,718.2L935.9,723.9L879.3,726.7L845.3,712.5Z" fill="#bb945e" fill-opacity="0.95"/><path d="M686.9,672.9L845.3,664.4L845.3,712.5L780.2,718.2L723.6,712.5L686.9,695.5Z" fill="#bb945e" fill-opacity="0.95"/><path d="M800.1,791.9L856.7,791.9L851.0,820.3L805.7,823.1Z" fill="#9aa872" fill-opacity="0.95"/><path d="M788.7,823.1L817.0,823.1L817.0,854.3L794.4,860.0Z" fill="#bb945e" fill-opacity="0.95"/><path d="M780.2,865.6L851.0,862.8L935.9,888.3L930.2,911.0L836.9,908.2L794.4,896.8Z" fill="#b3b487" fill-opacity="0.95"/><path d="M811.4,735.2L862.3,729.6L879.3,755.1L845.3,763.6L811.4,755.1Z" fill="#1b6336" fill-opacity="0.95"/><path d="M715.2,797.6L760.4,806.1L754.8,826.0L732.1,857.1L715.2,831.6Z" fill="#9aa872" fill-opacity="0.95"/><path d="M851.0,922.3L899.1,919.5L901.9,962.0L873.6,973.4L851.0,962.0Z" fill="#1b6336" fill-opacity="0.95"/><path d="M910.4,945.0L944.4,953.5L941.6,976.2L924.6,990.4L904.8,984.7Z" fill="#a9733f" fill-opacity="0.95"/><path d="M831.2,942.2L851.0,939.4L851.0,979.0L834.0,979.0Z" fill="#bb945e" fill-opacity="0.95"/></g>
<rect x="-5" y="620" width="1035" height="435" filter="url(#nTan)" opacity="0.9"/>
<rect x="-5" y="620" width="1035" height="435" filter="url(#nDark)" opacity="0.7"/>
<rect x="-5" y="620" width="1035" height="435" filter="url(#nLight2)" opacity="0.7"/>
<rect x="-5" y="620" width="1035" height="435" filter="url(#nLight)" opacity="0.8"/>
<g filter="url(#dispE)"><path d="M463.3,823.1L468.9,811.8L477.4,804.7L488.8,801.9L505.7,797.6L519.9,794.8L534.0,793.3L539.7,796.2L545.4,794.8L553.9,796.2L565.2,799.0L573.7,794.8L582.1,794.8L593.5,796.2L599.1,796.2L604.8,800.4L607.6,806.1L611.9,816.0L616.1,826.0L618.9,831.6L613.3,837.3L596.3,838.7L568.0,839.6L539.7,835.9L511.4,834.5L483.1,833.0L465.3,832.5Z" fill="#ffffff"/><path d="M603.4,794.8L609.0,793.9L610.5,800.4L607.6,803.8L603.7,799.0Z" fill="#ffffff"/><path d="M611.9,791.9L618.9,780.6L633.1,779.2L641.6,787.7L648.7,797.6L651.5,806.1L655.7,810.4L661.4,814.6L669.9,813.2L675.5,811.8L686.9,817.4L678.4,834.5L658.6,838.7L647.2,843.0L638.8,838.7L635.9,833.0L631.7,828.8L626.0,821.7L620.4,813.2L614.7,804.7L610.5,797.6Z" fill="#ffffff"/><path d="M652.9,779.2L669.9,776.3L686.9,777.8L699.6,783.4L701.0,814.6L672.7,814.6L669.9,804.7L661.4,797.6L654.3,789.1Z" fill="#ffffff"/><path d="M714.5,771.4L723.6,770.1L736.5,763.7L755.9,755.9L766.3,752.0L788.3,753.3L803.8,755.9L824.5,755.9L814.2,767.5L806.4,774.0L788.3,771.4L785.7,779.2L768.9,781.8L749.4,785.7L736.5,793.4L732.6,787.0L726.1,781.8L715.8,779.2Z" fill="#ffffff"/><path d="M309.1,930.8L316.1,932.3L320.4,945.0L317.5,959.2L314.7,976.2L312.5,981.9L309.9,981.9L311.0,967.7L311.9,950.7L310.5,936.5Z" fill="#ffffff"/><path d="M545.4,930.8L551.0,930.8L555.3,950.7L558.1,964.9L553.9,962.0L549.6,945.0Z" fill="#ffffff"/></g>
<g filter="url(#patchy)"><path d="M664.0,757.2L677.0,755.9L687.3,759.8L692.5,768.8L702.8,775.3L692.5,781.8L682.1,779.2L674.4,772.7L666.6,768.8Z" fill="#ffffff"/></g>
<use href="#grl" fill="#fff"/>
<g filter="url(#dispE)"><path d="M242.6,655.9L256.7,648.8L335.9,647.9L319.0,655.9L299.2,660.1L279.3,664.4L256.7,665.8L239.7,661.5Z" fill="#ffffff"/><path d="M248.2,667.8L279.3,666.6L285.0,670.0L256.7,670.0Z" fill="#ffffff"/><path d="M539.7,660.1L556.7,655.0L590.6,655.0L579.3,661.5L562.3,664.9Z" fill="#ffffff"/><path d="M667.1,672.9L681.2,665.8L709.5,663.8L686.9,671.4Z" fill="#ffffff"/><path d="M774.6,658.1L794.4,652.2L811.4,655.3L800.1,661.5Z" fill="#ffffff"/><path d="M285.0,673.4L307.6,679.9L319.0,684.2L299.2,676.3Z" fill="#ffffff"/><path d="M171.8,670.0L214.2,665.8L217.1,669.2L194.4,671.4Z" fill="#ffffff"/></g>
</g>
<use href="#water" fill="#fff"/>
<use href="#land" fill="none" stroke="#1e1e1e" stroke-width="1.5" stroke-linejoin="round"/>
<use href="#water" fill="none" stroke="#1e1e1e" stroke-width="1.3"/>
<use href="#lakes" fill="none" stroke="#1e1e1e" stroke-width="2.6" stroke-linecap="round"/>
</g>
<g transform="translate(574,591)">
<g clip-path="url(#clipLand)">
<rect x="-5" y="620" width="1035" height="435" fill="#d9655f"/>
<rect x="-5" y="620" width="1035" height="435" filter="url(#eOr)" opacity="0.55"/>
<g filter="url(#dispE)"><path d="M40.0,688.7L80.4,682.8L135.1,687.5L168.3,689.9L204.0,695.8L227.7,705.4L230.1,726.7L211.1,738.6L204.0,745.8L182.6,741.0L163.6,748.1L149.3,736.2L125.6,717.2L101.8,710.1L73.3,717.2L49.5,712.5L41.2,703.0Z" fill="#6aaed3"/><path d="M80.4,686.3L116.1,688.7L120.8,703.0L92.3,705.4Z" fill="#b0b3b7"/><path d="M156.5,738.6L185.0,741.0L182.6,762.4L166.0,769.5L154.1,760.0Z" fill="#b0b3b7"/><path d="M201.6,681.6L253.9,681.6L265.8,703.0L244.4,707.7L239.6,717.2L225.4,726.7L230.1,738.6L239.6,750.5L225.4,760.0L211.1,750.5L204.0,745.8L215.9,736.2L227.7,722.0L227.7,705.4Z" fill="#e9b97c"/><path d="M211.1,750.5L239.6,750.5L263.4,755.3L272.9,769.5L265.8,790.9L239.6,774.3L215.9,779.0L206.3,764.8Z" fill="#e9b97c"/><path d="M211.1,812.3L239.6,812.3L258.6,828.9L287.1,855.1L275.3,862.2L244.4,840.8L220.6,831.3Z" fill="#e9b97c"/><path d="M441.6,691.1L474.9,691.1L474.9,705.4L441.6,705.4Z" fill="#6aaed3"/><path d="M525.0,705.4L565.4,684.0L589.2,686.3L584.4,705.4L565.4,726.7L541.6,726.7L527.4,717.2Z" fill="#e9b97c"/><path d="M506.0,731.5L541.6,726.7L565.4,729.1L589.2,717.2L648.6,719.6L639.1,736.2L565.4,738.6L536.9,760.0L506.0,760.0Z" fill="#e9b97c"/><path d="M491.7,738.6L534.5,738.6L536.9,760.0L520.3,774.3L491.7,774.3Z" fill="#6aaed3"/><path d="M491.7,719.6L515.5,719.6L515.5,738.6L491.7,738.6Z" fill="#b0b3b7"/><path d="M639.1,681.6L743.6,674.5L762.6,698.2L734.1,705.4L684.2,705.4L653.3,705.4L643.8,693.5Z" fill="#b0b3b7"/><path d="M653.3,705.4L743.6,705.4L753.1,731.5L719.8,745.8L715.1,774.3L696.1,798.0L660.4,798.0L629.6,781.4L629.6,764.8L648.6,750.5L655.7,731.5Z" fill="#6aaed3"/><path d="M646.2,717.2L662.8,712.5L672.3,745.8L653.3,745.8Z" fill="#b0b3b7"/><path d="M767.4,669.7L838.7,674.5L843.4,698.2L791.1,703.0L767.4,688.7Z" fill="#d9655f"/><path d="M743.6,698.2L803.0,698.2L810.1,722.0L791.1,750.5L743.6,750.5L731.7,729.1Z" fill="#e9b97c"/><path d="M803.0,705.4L850.5,698.2L886.2,717.2L886.2,750.5L838.7,760.0L810.1,741.0Z" fill="#d9655f"/><path d="M838.7,686.3L909.9,681.6L909.9,705.4L886.2,722.0L850.5,705.4Z" fill="#b0b3b7"/><path d="M874.3,693.5L1028.7,686.3L1028.7,707.7L957.5,710.1L909.9,741.0L886.2,741.0L886.2,717.2Z" fill="#6aaed3"/><path d="M874.3,674.5L969.3,676.8L957.5,688.7L886.2,693.5Z" fill="#d9655f"/><path d="M715.1,741.0L803.0,745.8L857.7,760.0L857.7,781.4L791.1,774.3L731.7,781.4L712.7,769.5Z" fill="#e9b97c"/><path d="M803.0,774.3L850.5,769.5L852.9,798.0L814.9,798.0Z" fill="#d9655f"/><path d="M731.7,793.3L803.0,788.5L857.7,798.0L838.7,840.8L803.0,852.7L767.4,840.8L731.7,817.0Z" fill="#e9b97c"/><path d="M945.6,705.4L983.6,703.0L971.7,741.0L948.0,741.0Z" fill="#6aaed3"/><path d="M857.7,760.0L876.7,760.0L876.7,788.5L860.0,788.5Z" fill="#e9b97c"/><path d="M461.9,834.5L539.7,835.9L618.9,837.3L618.9,850.0L568.0,850.0L511.4,848.6L461.9,847.2Z" fill="#6aaed3"/><path d="M367.7,902.7L396.3,899.1L403.4,913.4L389.1,934.9L371.2,931.3Z" fill="#e9b97c"/><path d="M310.4,949.2L360.5,956.3L367.7,977.8L339.0,985.0L314.0,977.8Z" fill="#e9b97c"/><path d="M543.0,902.7L568.0,902.7L568.0,934.9L546.6,934.9Z" fill="#e9b97c"/><path d="M596.7,841.8L661.1,841.8L639.6,870.5L603.8,870.5Z" fill="#e9b97c"/><path d="M628.9,913.4L657.5,913.4L657.5,956.3L628.9,956.3Z" fill="#e9b97c"/><path d="M832.8,934.9L875.8,931.3L875.8,981.4L832.8,970.7Z" fill="#e9b97c"/><path d="M868.6,915.2L918.7,915.2L918.7,942.0L868.6,942.0Z" fill="#6aaed3"/><path d="M976.0,977.8L1020.0,977.8L1020.0,1017.2L976.0,1017.2Z" fill="#b0b3b7"/><path d="M814.9,866.9L940.2,866.9L940.2,913.4L814.9,913.4Z" fill="#e9b97c"/></g>
<g filter="url(#patchy)"><path d="M168.3,717.2L196.8,717.2L199.2,736.2L173.1,736.2Z" fill="#b0b3b7"/><path d="M156.5,674.5L263.4,662.6L334.7,686.3L310.9,705.4L239.6,698.2L168.3,688.7Z" fill="#e9b97c"/><path d="M441.6,691.1L474.9,691.1L474.9,705.4L441.6,705.4Z" fill="#b0b3b7"/><path d="M2.0,686.3L30.5,686.3L30.5,700.6L2.0,700.6Z" fill="#6aaed3"/><path d="M541.6,760.0L584.4,760.0L612.9,779.0L584.4,793.3L541.6,779.0Z" fill="#e9b97c"/><path d="M708.0,793.3L779.3,798.0L767.4,828.9L738.9,864.6L715.1,828.9Z" fill="#e9b97c"/><path d="M463.3,847.2L539.7,848.6L610.5,850.0L610.5,860.0L539.7,862.8L483.1,862.8Z" fill="#e9b97c"/><path d="M349.8,891.9L399.9,888.4L414.2,906.2L399.9,949.2L367.7,956.3L349.8,931.3Z" fill="#e9b97c"/><path d="M324.7,956.3L353.3,956.3L349.8,977.8L328.3,974.2Z" fill="#6aaed3"/><path d="M292.5,985.0L328.3,985.0L328.3,1027.9L306.8,1038.6L292.5,1010.0Z" fill="#6aaed3"/><path d="M589.5,870.5L625.3,870.5L625.3,920.6L596.7,920.6Z" fill="#6aaed3"/><path d="M911.5,934.9L943.8,949.2L943.8,967.1L915.1,967.1Z" fill="#e9b97c"/><path d="M775.6,863.3L814.9,863.3L814.9,902.7L775.6,902.7Z" fill="#e9b97c"/></g>
<g filter="url(#patchy2)"><path d="M862.4,745.8L921.8,757.6L909.9,793.3L867.2,793.3Z" fill="#e9b97c"/><path d="M483.1,783.4L539.7,777.8L542.5,789.1L511.4,794.8L483.1,800.4Z" fill="#e9b97c"/><path d="M854.3,952.8L918.7,952.8L918.7,977.8L854.3,977.8Z" fill="#6aaed3"/></g>
<g filter="url(#dispE)"><path d="M463.3,823.1L468.9,811.8L477.4,804.7L488.8,801.9L505.7,797.6L519.9,794.8L534.0,793.3L539.7,796.2L545.4,794.8L553.9,796.2L565.2,799.0L573.7,794.8L582.1,794.8L593.5,796.2L599.1,796.2L604.8,800.4L607.6,806.1L611.9,816.0L616.1,826.0L618.9,831.6L613.3,837.3L596.3,838.7L568.0,839.6L539.7,835.9L511.4,834.5L483.1,833.0L465.3,832.5Z" fill="#ffffff"/><path d="M603.4,794.8L609.0,793.9L610.5,800.4L607.6,803.8L603.7,799.0Z" fill="#ffffff"/><path d="M611.9,791.9L618.9,780.6L633.1,779.2L641.6,787.7L648.7,797.6L651.5,806.1L655.7,810.4L661.4,814.6L669.9,813.2L675.5,811.8L686.9,817.4L678.4,834.5L658.6,838.7L647.2,843.0L638.8,838.7L635.9,833.0L631.7,828.8L626.0,821.7L620.4,813.2L614.7,804.7L610.5,797.6Z" fill="#ffffff"/><path d="M309.1,930.8L316.1,932.3L320.4,945.0L317.5,959.2L314.7,976.2L312.5,981.9L309.9,981.9L311.0,967.7L311.9,950.7L310.5,936.5Z" fill="#ffffff"/><path d="M715.1,760.0L772.1,752.9L822.0,760.0L810.1,774.3L779.3,779.0L743.6,788.5L719.8,783.8Z" fill="#ffffff"/><path d="M660.4,760.0L696.1,755.3L696.1,781.4L672.3,779.0Z" fill="#ffffff"/><path d="M648.6,781.4L708.0,783.8L708.0,807.5L672.3,802.8Z" fill="#ffffff"/></g>
<rect x="-5" y="620" width="1035" height="435" filter="url(#eWh)" opacity="0.45"/>
<use href="#grl" fill="#fff"/>
<g filter="url(#dispE)"><path d="M242.6,655.9L256.7,648.8L335.9,647.9L319.0,655.9L299.2,660.1L279.3,664.4L256.7,665.8L239.7,661.5Z" fill="#ffffff"/><path d="M248.2,667.8L279.3,666.6L285.0,670.0L256.7,670.0Z" fill="#ffffff"/><path d="M539.7,660.1L556.7,655.0L590.6,655.0L579.3,661.5L562.3,664.9Z" fill="#ffffff"/><path d="M667.1,672.9L681.2,665.8L709.5,663.8L686.9,671.4Z" fill="#ffffff"/><path d="M774.6,658.1L794.4,652.2L811.4,655.3L800.1,661.5Z" fill="#ffffff"/><path d="M285.0,673.4L307.6,679.9L319.0,684.2L299.2,676.3Z" fill="#ffffff"/><path d="M171.8,670.0L214.2,665.8L217.1,669.2L194.4,671.4Z" fill="#ffffff"/></g>
</g>
<use href="#water" fill="#fff"/>
<use href="#land" fill="none" stroke="#1e1e1e" stroke-width="1.5" stroke-linejoin="round"/>
<use href="#water" fill="none" stroke="#1e1e1e" stroke-width="1.3"/>
<use href="#lakes" fill="none" stroke="#1e1e1e" stroke-width="2.6" stroke-linecap="round"/>
</g>
<line x1="353.8" y1="54.9" x2="353.8" y2="491.4" stroke="#dcdcdc" stroke-width="1.3"/>
<line x1="595.8" y1="54.9" x2="595.8" y2="491.4" stroke="#dcdcdc" stroke-width="1.3"/>
<line x1="837.8" y1="54.9" x2="837.8" y2="491.4" stroke="#dcdcdc" stroke-width="1.3"/>
<line x1="1079.8" y1="54.9" x2="1079.8" y2="491.4" stroke="#dcdcdc" stroke-width="1.3"/>
<line x1="111.8" y1="117.6" x2="1273.4" y2="117.6" stroke="#dcdcdc" stroke-width="1.3"/>
<line x1="111.8" y1="429.7" x2="1273.4" y2="429.7" stroke="#dcdcdc" stroke-width="1.3"/>
<line x1="111.8" y1="273.1" x2="1273.4" y2="273.1" stroke="#262626" stroke-width="2.2"/>
<rect x="111.8" y="54.9" width="1161.6" height="436.5" fill="none" stroke="#3a3a3a" stroke-width="2"/>
<line x1="111.8" y1="491.4" x2="111.8" y2="503.4" stroke="#3a3a3a" stroke-width="2"/>
<line x1="111.8" y1="54.9" x2="111.8" y2="60.9" stroke="#3a3a3a" stroke-width="2"/>
<line x1="353.8" y1="491.4" x2="353.8" y2="503.4" stroke="#3a3a3a" stroke-width="2"/>
<line x1="353.8" y1="54.9" x2="353.8" y2="60.9" stroke="#3a3a3a" stroke-width="2"/>
<line x1="595.8" y1="491.4" x2="595.8" y2="503.4" stroke="#3a3a3a" stroke-width="2"/>
<line x1="595.8" y1="54.9" x2="595.8" y2="60.9" stroke="#3a3a3a" stroke-width="2"/>
<line x1="837.8" y1="491.4" x2="837.8" y2="503.4" stroke="#3a3a3a" stroke-width="2"/>
<line x1="837.8" y1="54.9" x2="837.8" y2="60.9" stroke="#3a3a3a" stroke-width="2"/>
<line x1="1079.8" y1="491.4" x2="1079.8" y2="503.4" stroke="#3a3a3a" stroke-width="2"/>
<line x1="1079.8" y1="54.9" x2="1079.8" y2="60.9" stroke="#3a3a3a" stroke-width="2"/>
<line x1="1273.4" y1="491.4" x2="1273.4" y2="503.4" stroke="#3a3a3a" stroke-width="2"/>
<line x1="1273.4" y1="54.9" x2="1273.4" y2="60.9" stroke="#3a3a3a" stroke-width="2"/>
<line x1="99.8" y1="117.6" x2="111.8" y2="117.6" stroke="#3a3a3a" stroke-width="2"/>
<line x1="1273.4" y1="117.6" x2="1286.4" y2="117.6" stroke="#3a3a3a" stroke-width="2"/>
<line x1="99.8" y1="273.1" x2="111.8" y2="273.1" stroke="#3a3a3a" stroke-width="2"/>
<line x1="1273.4" y1="273.1" x2="1286.4" y2="273.1" stroke="#3a3a3a" stroke-width="2"/>
<line x1="99.8" y1="429.7" x2="111.8" y2="429.7" stroke="#3a3a3a" stroke-width="2"/>
<line x1="1273.4" y1="429.7" x2="1286.4" y2="429.7" stroke="#3a3a3a" stroke-width="2"/>
<text x="111.8" y="530.5" font-size="25" fill="#3c3c3c" text-anchor="middle">2000</text>
<text x="353.8" y="530.5" font-size="25" fill="#3c3c3c" text-anchor="middle">2005</text>
<text x="595.8" y="530.5" font-size="25" fill="#3c3c3c" text-anchor="middle">2010</text>
<text x="837.8" y="530.5" font-size="25" fill="#3c3c3c" text-anchor="middle">2015</text>
<text x="1079.8" y="530.5" font-size="25" fill="#3c3c3c" text-anchor="middle">2020</text>
<text x="1273.4" y="530.5" font-size="25" fill="#3c3c3c" text-anchor="middle">2024</text>
<text x="91.5" y="125.9" font-size="24.5" fill="#3c3c3c" text-anchor="end">0.01</text>
<text x="91.5" y="281.4" font-size="24.5" fill="#3c3c3c" text-anchor="end">0</text>
<text x="91.5" y="438.0" font-size="24.5" fill="#3c3c3c" text-anchor="end">−0.01</text>
<text x="686.5" y="547" font-size="28" fill="#3c3c3c">Year</text>
<text transform="translate(33,273) rotate(-90)" font-size="26.5" fill="#3c3c3c" text-anchor="middle">NDVI<tspan font-size="15" dy="6">GS</tspan><tspan dy="-6"> anomaly</tspan></text>
<line x1="111.8" y1="425.3" x2="1273.4" y2="122" stroke="#5aa2d4" stroke-width="4.2"/>
<line x1="111.8" y1="420.2" x2="1224" y2="144" stroke="#0c4c8a" stroke-width="4.2"/>
<polyline points="111.8,401.6 160.2,375.5 208.6,394.8 257.0,403.9 305.4,353.4 353.8,387.0 402.2,338.9 450.6,317.5 499.0,406.6 547.4,388.0 595.8,300.0 644.2,229.0 692.6,283.0 741.0,238.2 789.4,259.2 837.8,233.1 886.2,165.4 934.6,177.9 983.0,235.5 1031.4,238.9 1079.8,144.0 1128.2,147.4 1176.6,188.7 1225.0,151.5 1273.4,68.8" fill="none" stroke="#5db652" stroke-width="4.4" stroke-linejoin="miter"/>
<circle cx="1273.4" cy="68.8" r="6.5" fill="#5db652"/>
<rect x="799.3" y="392" width="462.2" height="85.8" fill="none" stroke="#2a2a2a" stroke-width="1.6"/>
<line x1="812" y1="418.5" x2="842" y2="418.5" stroke="#0c4c8a" stroke-width="4.5"/>
<line x1="812" y1="457.5" x2="842" y2="457.5" stroke="#5aa2d4" stroke-width="4.5"/>
<text x="848.4" y="427.6" font-size="26.5" fill="#1e1e1e" letter-spacing="0.45">2000–2023 trend: 7.7×10<tspan font-size="15" dy="-10">−4</tspan><tspan dy="10"> year</tspan><tspan font-size="15" dy="-10">−1</tspan></text>
<text x="848.4" y="467" font-size="26.5" fill="#1e1e1e" letter-spacing="0.45">2000–2024 trend: 8.1×10<tspan font-size="15" dy="-10">−4</tspan><tspan dy="10"> year</tspan><tspan font-size="15" dy="-10">−1</tspan></text>
<text x="11" y="29" font-size="36" font-weight="bold" fill="#1a1a1a" stroke="#1a1a1a" stroke-width="0.9">a</text>
<text x="45.3" y="29" font-size="28" font-weight="bold" fill="#1a1a1a" stroke="#1a1a1a" stroke-width="0.9" textLength="257" lengthAdjust="spacingAndGlyphs">Global mean NDVI</text>
<text x="303" y="36" font-size="15" font-weight="bold" fill="#1a1a1a" stroke="#1a1a1a" stroke-width="0.9">GS</text>
<text x="1410" y="29" font-size="36" font-weight="bold" fill="#1a1a1a" stroke="#1a1a1a" stroke-width="0.9">b</text>
<text x="1447" y="29" font-size="28" font-weight="bold" fill="#1a1a1a" stroke="#1a1a1a" stroke-width="0.9" textLength="572" lengthAdjust="spacingAndGlyphs">Greening or browning by vegetation type</text>
<path d="M1638.50,142.50 A147,147 0 0 1 1770.31,354.59 L1691.40,315.62 A59,59 0 0 0 1638.50,230.50 Z" fill="#6a463a"/>
<path d="M1770.31,354.59 A147,147 0 1 1 1638.50,142.50 L1638.50,230.50 A59,59 0 1 0 1691.40,315.62 Z" fill="#23743c"/>
<path d="M1638.50,46.50 A243,243 0 0 1 1739.19,68.34 L1699.41,155.71 A147,147 0 0 0 1638.50,142.50 Z" fill="#88614f"/>
<path d="M1739.19,68.34 A243,243 0 0 1 1849.20,168.44 L1765.96,216.27 A147,147 0 0 0 1699.41,155.71 Z" fill="#b38b77"/>
<path d="M1849.20,168.44 A243,243 0 0 1 1872.68,354.36 L1780.17,328.73 A147,147 0 0 0 1765.96,216.27 Z" fill="#d8ae94"/>
<path d="M1872.68,354.36 A243,243 0 0 1 1855.70,398.46 L1769.89,355.41 A147,147 0 0 0 1780.17,328.73 Z" fill="#f7dfd0"/>
<path d="M1855.70,398.46 A243,243 0 0 1 1771.27,493.02 L1718.82,412.62 A147,147 0 0 0 1769.89,355.41 Z" fill="#d4da6b"/>
<path d="M1771.27,493.02 A243,243 0 0 1 1403.52,351.41 L1496.35,326.95 A147,147 0 0 0 1718.82,412.62 Z" fill="#93cd83"/>
<path d="M1403.52,351.41 A243,243 0 0 1 1466.67,117.67 L1534.56,185.56 A147,147 0 0 0 1496.35,326.95 Z" fill="#5db955"/>
<path d="M1466.67,117.67 A243,243 0 0 1 1638.50,46.50 L1638.50,142.50 A147,147 0 0 0 1534.56,185.56 Z" fill="#459c43"/>
<line x1="1638.5" y1="142.5" x2="1638.5" y2="39.5" stroke="#fff" stroke-width="8.5"/>
<line x1="1699.4" y1="155.7" x2="1742.1" y2="62.0" stroke="#fff" stroke-width="8.5"/>
<line x1="1766.0" y1="216.3" x2="1855.3" y2="165.0" stroke="#fff" stroke-width="8.5"/>
<line x1="1780.2" y1="328.7" x2="1879.4" y2="356.2" stroke="#fff" stroke-width="8.5"/>
<line x1="1769.9" y1="355.4" x2="1862.0" y2="401.6" stroke="#fff" stroke-width="8.5"/>
<line x1="1718.8" y1="412.6" x2="1775.1" y2="498.9" stroke="#fff" stroke-width="8.5"/>
<line x1="1496.4" y1="327.0" x2="1396.7" y2="353.2" stroke="#fff" stroke-width="8.5"/>
<line x1="1534.6" y1="185.6" x2="1461.7" y2="112.7" stroke="#fff" stroke-width="8.5"/>
<line x1="1638.5" y1="239.5" x2="1638.5" y2="139.5" stroke="#fff" stroke-width="8.5"/>
<line x1="1683.3" y1="311.6" x2="1773.0" y2="355.9" stroke="#fff" stroke-width="8.5"/>
<circle cx="1638.5" cy="289.5" r="147" fill="none" stroke="#fff" stroke-width="8"/>
<circle cx="1638.5" cy="289.5" r="63" fill="#fff"/>
<circle cx="1638.5" cy="289.5" r="243" fill="none" stroke="#fff" stroke-width="8"/>
<defs><pattern id="pDots" patternUnits="userSpaceOnUse" width="72" height="72"><circle cx="18.2" cy="39.0" r="1.7" fill="#111" stroke="#fff" stroke-width="0.5"/><circle cx="27.2" cy="43.1" r="1.7" fill="#111" stroke="#fff" stroke-width="0.5"/><circle cx="44.5" cy="6.5" r="1.7" fill="#111" stroke="#fff" stroke-width="0.5"/><circle cx="2.9" cy="58.9" r="1.7" fill="#111" stroke="#fff" stroke-width="0.5"/><circle cx="19.6" cy="17.9" r="1.7" fill="#111" stroke="#fff" stroke-width="0.5"/><circle cx="69.7" cy="34.0" r="1.7" fill="#111" stroke="#fff" stroke-width="0.5"/><circle cx="58.9" cy="34.4" r="1.7" fill="#111" stroke="#fff" stroke-width="0.5"/><circle cx="45.5" cy="12.2" r="1.7" fill="#111" stroke="#fff" stroke-width="0.5"/><circle cx="45.2" cy="61.0" r="1.7" fill="#111" stroke="#fff" stroke-width="0.5"/></pattern><pattern id="pWoody" patternUnits="userSpaceOnUse" width="80" height="72"><line x1="5.6" y1="4.1" x2="20.7" y2="17.2" stroke="#1a1a1a" stroke-width="1.1"/><line x1="3.3" y1="6.8" x2="18.4" y2="19.9" stroke="#1a1a1a" stroke-width="1.1"/><line x1="58.1" y1="10.6" x2="38.3" y2="13.0" stroke="#1a1a1a" stroke-width="1.1"/><line x1="57.7" y1="7.0" x2="37.9" y2="9.4" stroke="#1a1a1a" stroke-width="1.1"/><line x1="21.5" y1="28.5" x2="39.9" y2="36.2" stroke="#1a1a1a" stroke-width="1.1"/><line x1="20.1" y1="31.8" x2="38.5" y2="39.5" stroke="#1a1a1a" stroke-width="1.1"/><line x1="73.4" y1="29.1" x2="61.4" y2="45.1" stroke="#1a1a1a" stroke-width="1.1"/><line x1="70.6" y1="26.9" x2="58.6" y2="42.9" stroke="#1a1a1a" stroke-width="1.1"/><line x1="0.8" y1="53.6" x2="20.1" y2="58.9" stroke="#1a1a1a" stroke-width="1.1"/><line x1="-0.1" y1="57.1" x2="19.2" y2="62.4" stroke="#1a1a1a" stroke-width="1.1"/><line x1="42.1" y1="51.7" x2="56.4" y2="65.7" stroke="#1a1a1a" stroke-width="1.1"/><line x1="39.6" y1="54.3" x2="53.9" y2="68.3" stroke="#1a1a1a" stroke-width="1.1"/></pattern><pattern id="pGrass" patternUnits="userSpaceOnUse" width="18" height="18"><line x1="0" y1="4.5" x2="9" y2="4.5" stroke="#222" stroke-width="1.5"/><line x1="9" y1="13.5" x2="18" y2="13.5" stroke="#222" stroke-width="1.5"/></pattern><pattern id="pCrop" patternUnits="userSpaceOnUse" width="27" height="27"><path d="M-3,3 L3,-3 M0,27 L27,0 M24,30 L30,24" stroke="#1a1a1a" stroke-width="1.6"/></pattern><pattern id="lDots" patternUnits="userSpaceOnUse" x="1940.5" y="168.5" width="46" height="46.5"><rect width="46" height="46.5" fill="#fff"/><circle cx="19" cy="6" r="1.3" fill="#222"/><circle cx="40" cy="4" r="1.3" fill="#222"/><circle cx="25" cy="17" r="1.3" fill="#222"/><circle cx="6" cy="25" r="1.3" fill="#222"/><circle cx="14" cy="29" r="1.3" fill="#222"/><circle cx="33" cy="24" r="1.3" fill="#222"/><circle cx="40" cy="28" r="1.3" fill="#222"/><circle cx="16" cy="36" r="1.3" fill="#222"/><circle cx="16" cy="42" r="1.3" fill="#222"/><circle cx="26" cy="44" r="1.3" fill="#222"/><circle cx="39" cy="42" r="1.3" fill="#222"/><circle cx="42" cy="18" r="1.3" fill="#222"/></pattern><pattern id="lWoody" patternUnits="userSpaceOnUse" x="1940.5" y="228.4" width="46" height="46.5"><rect width="46" height="46.5" fill="#fff"/><line x1="2" y1="17" x2="16" y2="12" stroke="#222" stroke-width="1"/><line x1="3" y1="21" x2="17" y2="16" stroke="#222" stroke-width="1"/><line x1="31" y1="1" x2="40" y2="11" stroke="#222" stroke-width="1"/><line x1="37" y1="1" x2="44" y2="7" stroke="#222" stroke-width="1"/><line x1="18" y1="25" x2="23" y2="40" stroke="#222" stroke-width="1"/><line x1="23" y1="24" x2="28" y2="39" stroke="#222" stroke-width="1"/><line x1="42" y1="23" x2="38" y2="39" stroke="#222" stroke-width="1"/><line x1="46" y1="30" x2="43" y2="41" stroke="#222" stroke-width="1"/><line x1="2" y1="42" x2="10" y2="46" stroke="#222" stroke-width="1"/></pattern><pattern id="lCrop" patternUnits="userSpaceOnUse" x="1940.5" y="352.5" width="46" height="46.5"><rect width="46" height="46.5" fill="#fff"/><path d="M0,21 L19,0 M0,46.5 L46,0 M23,46.5 L46,23" stroke="#1a1a1a" stroke-width="1.6"/></pattern></defs>
<path d="M1643.51,50.55 A239,239 0 0 1 1732.96,69.96 L1698.18,150.79 A151,151 0 0 0 1641.66,138.53 Z" fill="url(#pDots)"/>
<path d="M1742.07,74.11 A239,239 0 0 1 1843.19,166.12 L1767.82,211.55 A151,151 0 0 0 1703.94,153.41 Z" fill="url(#pWoody)"/>
<path d="M1848.18,174.80 A239,239 0 0 1 1870.12,348.45 L1784.83,326.75 A151,151 0 0 0 1770.97,217.03 Z" fill="url(#pGrass)"/>
<path d="M1867.44,358.10 A239,239 0 0 1 1854.33,392.17 L1774.86,354.36 A151,151 0 0 0 1783.15,332.84 Z" fill="url(#pCrop)"/>
<path d="M1849.84,401.11 A239,239 0 0 1 1773.25,486.89 L1723.64,414.21 A151,151 0 0 0 1772.02,360.02 Z" fill="url(#pCrop)"/>
<path d="M1764.87,492.36 A239,239 0 0 1 1408.71,355.22 L1493.32,331.02 A151,151 0 0 0 1718.34,417.67 Z" fill="url(#pGrass)"/>
<path d="M1406.16,345.54 A239,239 0 0 1 1466.00,124.08 L1529.51,184.99 A151,151 0 0 0 1491.71,324.90 Z" fill="url(#pWoody)"/>
<path d="M1473.08,117.00 A239,239 0 0 1 1633.49,50.55 L1635.34,138.53 A151,151 0 0 0 1533.99,180.51 Z" fill="url(#pDots)"/>
<text x="1681" y="105" font-size="25" fill="#fff" text-anchor="middle">6.8%</text>
<text x="1768" y="156" font-size="25" fill="#fff" text-anchor="middle">9.9%</text>
<text x="1838" y="268" font-size="25" fill="#222" text-anchor="middle">12.6%</text>
<text x="1893" y="387" font-size="25" fill="#222" text-anchor="middle">3.1%</text>
<text x="1790" y="427" font-size="25" fill="#222" text-anchor="middle">8.4%</text>
<text x="1560" y="469" font-size="25" fill="#222" text-anchor="middle">30.1%</text>
<text x="1449" y="250" font-size="25" fill="#fff" text-anchor="middle">16.6%</text>
<text x="1566" y="120" font-size="25" fill="#fff" text-anchor="middle">12.5%</text>
<text x="1722" y="238" font-size="25" fill="#fff" text-anchor="middle">32.3%</text>
<text x="1550" y="352" font-size="25" fill="#fff" text-anchor="middle">67.7%</text>
<rect x="1940.5" y="168.5" width="46" height="46.5" fill="url(#lDots)" stroke="#2a2a2a" stroke-width="1.6"/>
<rect x="1940.5" y="228.4" width="46" height="46.5" fill="url(#lWoody)" stroke="#2a2a2a" stroke-width="1.6"/>
<rect x="1940.5" y="290" width="46" height="46.5" fill="url(#pGrass)" stroke="#2a2a2a" stroke-width="1.6"/>
<rect x="1940.5" y="352.5" width="46" height="46.5" fill="url(#lCrop)" stroke="#2a2a2a" stroke-width="1.6"/>
<text x="1998" y="203.6" font-size="25.5" fill="#222">Forest</text>
<text x="2000" y="245.5" font-size="25.5" fill="#222">Other woody</text>
<text x="2000" y="276.6" font-size="25.5" fill="#222">vegetation</text>
<text x="2000" y="319.4" font-size="25.5" fill="#222">Grassland</text>
<text x="2000" y="381.4" font-size="25.5" fill="#222">Cropland</text>
<rect x="55.30" y="1056.6" width="76.54" height="25" fill="#8b5e34"/>
<rect x="131.24" y="1056.6" width="76.54" height="25" fill="#b07a40"/>
<rect x="207.18" y="1056.6" width="76.54" height="25" fill="#c09663"/>
<rect x="283.12" y="1056.6" width="76.54" height="25" fill="#d4b583"/>
<rect x="359.07" y="1056.6" width="76.54" height="25" fill="#e6d09f"/>
<rect x="435.01" y="1056.6" width="76.54" height="25" fill="#e6dcbf"/>
<rect x="510.95" y="1056.6" width="76.54" height="25" fill="#9dcba8"/>
<rect x="586.89" y="1056.6" width="76.54" height="25" fill="#72b88a"/>
<rect x="662.83" y="1056.6" width="76.54" height="25" fill="#50a46b"/>
<rect x="738.77" y="1056.6" width="76.54" height="25" fill="#3a844a"/>
<rect x="814.72" y="1056.6" width="76.54" height="25" fill="#1f5f39"/>
<rect x="890.66" y="1056.6" width="76.54" height="25" fill="#0c4727"/>
<rect x="55.3" y="1056.6" width="911.3" height="25" fill="none" stroke="#222" stroke-width="2"/>
<line x1="131.2" y1="1081.6" x2="131.2" y2="1090.6" stroke="#333" stroke-width="1.8"/>
<text x="131.2" y="1117.1" font-size="22.5" fill="#3c3c3c" text-anchor="middle">−100</text>
<line x1="207.2" y1="1081.6" x2="207.2" y2="1090.6" stroke="#333" stroke-width="1.8"/>
<text x="207.2" y="1117.1" font-size="22.5" fill="#3c3c3c" text-anchor="middle">−60</text>
<line x1="283.1" y1="1081.6" x2="283.1" y2="1090.6" stroke="#333" stroke-width="1.8"/>
<text x="283.1" y="1117.1" font-size="22.5" fill="#3c3c3c" text-anchor="middle">−30</text>
<line x1="359.1" y1="1081.6" x2="359.1" y2="1090.6" stroke="#333" stroke-width="1.8"/>
<text x="359.1" y="1117.1" font-size="22.5" fill="#3c3c3c" text-anchor="middle">−10</text>
<line x1="435.0" y1="1081.6" x2="435.0" y2="1090.6" stroke="#333" stroke-width="1.8"/>
<text x="435.0" y="1117.1" font-size="22.5" fill="#3c3c3c" text-anchor="middle">−5</text>
<line x1="510.9" y1="1081.6" x2="510.9" y2="1090.6" stroke="#333" stroke-width="1.8"/>
<text x="510.9" y="1117.1" font-size="22.5" fill="#3c3c3c" text-anchor="middle">0</text>
<line x1="586.9" y1="1081.6" x2="586.9" y2="1090.6" stroke="#333" stroke-width="1.8"/>
<text x="586.9" y="1117.1" font-size="22.5" fill="#3c3c3c" text-anchor="middle">5</text>
<line x1="662.8" y1="1081.6" x2="662.8" y2="1090.6" stroke="#333" stroke-width="1.8"/>
<text x="662.8" y="1117.1" font-size="22.5" fill="#3c3c3c" text-anchor="middle">10</text>
<line x1="738.8" y1="1081.6" x2="738.8" y2="1090.6" stroke="#333" stroke-width="1.8"/>
<text x="738.8" y="1117.1" font-size="22.5" fill="#3c3c3c" text-anchor="middle">30</text>
<line x1="814.7" y1="1081.6" x2="814.7" y2="1090.6" stroke="#333" stroke-width="1.8"/>
<text x="814.7" y="1117.1" font-size="22.5" fill="#3c3c3c" text-anchor="middle">60</text>
<line x1="890.7" y1="1081.6" x2="890.7" y2="1090.6" stroke="#333" stroke-width="1.8"/>
<text x="890.7" y="1117.1" font-size="22.5" fill="#3c3c3c" text-anchor="middle">100</text>
<text x="510.9" y="1152.1" font-size="26" fill="#2a2a2a" text-anchor="middle">NDVI<tspan font-size="14" dy="7">GS</tspan><tspan dy="-7"> anomaly (×10</tspan><tspan font-size="14" dy="-10">−3</tspan><tspan dy="10">)</tspan></text>
<rect x="1191.50" y="1056.6" width="76.54" height="25" fill="#8b5e34"/>
<rect x="1267.44" y="1056.6" width="76.54" height="25" fill="#b07a40"/>
<rect x="1343.38" y="1056.6" width="76.54" height="25" fill="#c09663"/>
<rect x="1419.33" y="1056.6" width="76.54" height="25" fill="#d4b583"/>
<rect x="1495.27" y="1056.6" width="76.54" height="25" fill="#e6d09f"/>
<rect x="1571.21" y="1056.6" width="76.54" height="25" fill="#e6dcbf"/>
<rect x="1647.15" y="1056.6" width="76.54" height="25" fill="#9dcba8"/>
<rect x="1723.09" y="1056.6" width="76.54" height="25" fill="#72b88a"/>
<rect x="1799.03" y="1056.6" width="76.54" height="25" fill="#50a46b"/>
<rect x="1874.97" y="1056.6" width="76.54" height="25" fill="#3a844a"/>
<rect x="1950.92" y="1056.6" width="76.54" height="25" fill="#1f5f39"/>
<rect x="2026.86" y="1056.6" width="76.54" height="25" fill="#0c4727"/>
<rect x="1191.5" y="1056.6" width="911.3" height="25" fill="none" stroke="#222" stroke-width="2"/>
<line x1="1267.4" y1="1081.6" x2="1267.4" y2="1090.6" stroke="#333" stroke-width="1.8"/>
<text x="1267.4" y="1117.1" font-size="22.5" fill="#3c3c3c" text-anchor="middle">−100</text>
<line x1="1343.4" y1="1081.6" x2="1343.4" y2="1090.6" stroke="#333" stroke-width="1.8"/>
<text x="1343.4" y="1117.1" font-size="22.5" fill="#3c3c3c" text-anchor="middle">−60</text>
<line x1="1419.3" y1="1081.6" x2="1419.3" y2="1090.6" stroke="#333" stroke-width="1.8"/>
<text x="1419.3" y="1117.1" font-size="22.5" fill="#3c3c3c" text-anchor="middle">−30</text>
<line x1="1495.3" y1="1081.6" x2="1495.3" y2="1090.6" stroke="#333" stroke-width="1.8"/>
<text x="1495.3" y="1117.1" font-size="22.5" fill="#3c3c3c" text-anchor="middle">−10</text>
<line x1="1571.2" y1="1081.6" x2="1571.2" y2="1090.6" stroke="#333" stroke-width="1.8"/>
<text x="1571.2" y="1117.1" font-size="22.5" fill="#3c3c3c" text-anchor="middle">−5</text>
<line x1="1647.2" y1="1081.6" x2="1647.2" y2="1090.6" stroke="#333" stroke-width="1.8"/>
<text x="1647.2" y="1117.1" font-size="22.5" fill="#3c3c3c" text-anchor="middle">0</text>
<line x1="1723.1" y1="1081.6" x2="1723.1" y2="1090.6" stroke="#333" stroke-width="1.8"/>
<text x="1723.1" y="1117.1" font-size="22.5" fill="#3c3c3c" text-anchor="middle">5</text>
<line x1="1799.0" y1="1081.6" x2="1799.0" y2="1090.6" stroke="#333" stroke-width="1.8"/>
<text x="1799.0" y="1117.1" font-size="22.5" fill="#3c3c3c" text-anchor="middle">10</text>
<line x1="1875.0" y1="1081.6" x2="1875.0" y2="1090.6" stroke="#333" stroke-width="1.8"/>
<text x="1875.0" y="1117.1" font-size="22.5" fill="#3c3c3c" text-anchor="middle">30</text>
<line x1="1950.9" y1="1081.6" x2="1950.9" y2="1090.6" stroke="#333" stroke-width="1.8"/>
<text x="1950.9" y="1117.1" font-size="22.5" fill="#3c3c3c" text-anchor="middle">60</text>
<line x1="2026.9" y1="1081.6" x2="2026.9" y2="1090.6" stroke="#333" stroke-width="1.8"/>
<text x="2026.9" y="1117.1" font-size="22.5" fill="#3c3c3c" text-anchor="middle">100</text>
<text x="1647.2" y="1152.1" font-size="26" fill="#2a2a2a" text-anchor="middle">NDVI<tspan font-size="14" dy="7">GS</tspan><tspan dy="-7"> anomaly (×10</tspan><tspan font-size="14" dy="-10">−3</tspan><tspan dy="10">)</tspan></text>
<text x="1" y="617" font-size="36" font-weight="bold" fill="#1a1a1a" stroke="#1a1a1a" stroke-width="0.9">c</text>
<text x="34" y="617" font-size="28" font-weight="bold" fill="#1a1a1a" stroke="#1a1a1a" stroke-width="0.9" textLength="550" lengthAdjust="spacingAndGlyphs">2024 anomalies relative to 2000–2024</text>
<text x="1135" y="610.5" font-size="36" font-weight="bold" fill="#1a1a1a" stroke="#1a1a1a" stroke-width="0.9">d</text>
<text x="1172.7" y="610.5" font-size="28" font-weight="bold" fill="#1a1a1a" stroke="#1a1a1a" stroke-width="0.9" textLength="537" lengthAdjust="spacingAndGlyphs">2024 anomalies relative to 2021–2023</text>
<text x="575" y="1219" font-size="36" font-weight="bold" fill="#1a1a1a" stroke="#1a1a1a" stroke-width="0.9">e</text>
<text x="609" y="1219" font-size="28" font-weight="bold" fill="#1a1a1a" stroke="#1a1a1a" stroke-width="0.9" textLength="649" lengthAdjust="spacingAndGlyphs">2024 climate anomalies relative to 2021–2023</text>
<rect x="930.7" y="1599.4" width="542.3" height="53" fill="#fff" stroke="#2a2a2a" stroke-width="1.6"/>
<rect x="945.7" y="1608.5" width="30" height="30.3" fill="#dc605e"/>
<text x="983.4" y="1633.7" font-size="26" fill="#1e1e1e">T</text>
<path d="M1008.5,1633.5 L1008.5,1616.0 M1002.3,1622.5 L1008.5,1616.0 L1014.6999999999999,1622.5" fill="none" stroke="#1e1e1e" stroke-width="2.1"/>
<text x="1024.4" y="1633.7" font-size="26" fill="#1e1e1e">P</text>
<path d="M1048.7,1615.5 L1048.7,1633.0 M1042.5,1626.5 L1048.7,1633.0 L1054.9,1626.5" fill="none" stroke="#1e1e1e" stroke-width="2.1"/>
<rect x="1075.5" y="1608.5" width="30" height="30.3" fill="#ebbb7c"/>
<text x="1116" y="1633.7" font-size="26" fill="#1e1e1e">T</text>
<path d="M1141.1000000000001,1633.5 L1141.1000000000001,1616.0 M1134.9,1622.5 L1141.1000000000001,1616.0 L1147.3000000000002,1622.5" fill="none" stroke="#1e1e1e" stroke-width="2.1"/>
<text x="1155.8" y="1633.7" font-size="26" fill="#1e1e1e">P</text>
<path d="M1180.1,1633.5 L1180.1,1616.0 M1173.8999999999999,1622.5 L1180.1,1616.0 L1186.3,1622.5" fill="none" stroke="#1e1e1e" stroke-width="2.1"/>
<rect x="1211" y="1608.5" width="30" height="30.3" fill="#6ab0d4"/>
<text x="1254.2" y="1633.7" font-size="26" fill="#1e1e1e">T</text>
<path d="M1279.3000000000002,1615.5 L1279.3000000000002,1633.0 M1273.1000000000001,1626.5 L1279.3000000000002,1633.0 L1285.5000000000002,1626.5" fill="none" stroke="#1e1e1e" stroke-width="2.1"/>
<text x="1296.5" y="1633.7" font-size="26" fill="#1e1e1e">P</text>
<path d="M1320.8,1633.5 L1320.8,1616.0 M1314.6,1622.5 L1320.8,1616.0 L1327.0,1622.5" fill="none" stroke="#1e1e1e" stroke-width="2.1"/>
<rect x="1351.7" y="1608.5" width="30" height="30.3" fill="#b0b4b8"/>
<text x="1389.6" y="1633.7" font-size="26" fill="#1e1e1e">T</text>
<path d="M1414.7,1615.5 L1414.7,1633.0 M1408.5,1626.5 L1414.7,1633.0 L1420.9,1626.5" fill="none" stroke="#1e1e1e" stroke-width="2.1"/>
<text x="1430.7" y="1633.7" font-size="26" fill="#1e1e1e">P</text>
<path d="M1455.0,1615.5 L1455.0,1633.0 M1448.8,1626.5 L1455.0,1633.0 L1461.2,1626.5" fill="none" stroke="#1e1e1e" stroke-width="2.1"/>
</svg></body></html>
